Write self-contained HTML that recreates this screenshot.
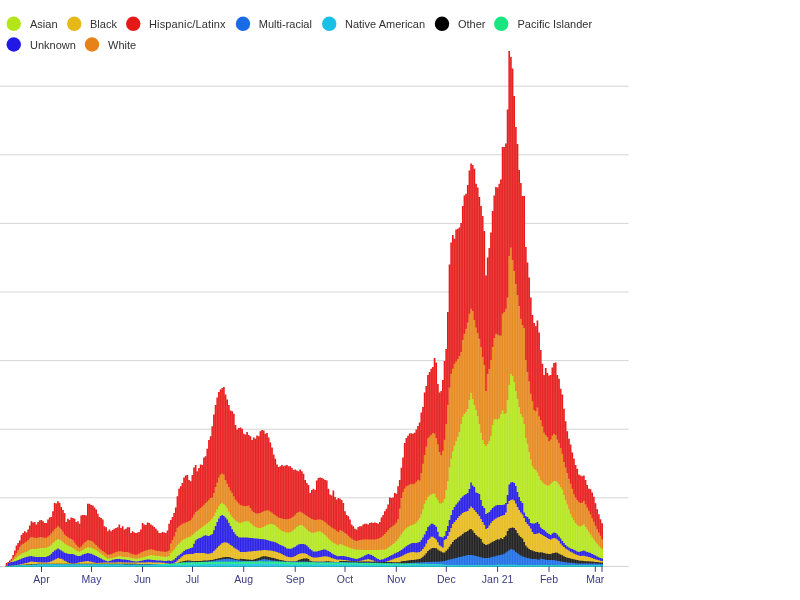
<!DOCTYPE html>
<html><head><meta charset="utf-8"><title>Cases by race/ethnicity</title>
<style>
html,body{margin:0;padding:0;background:#fff;}
body{width:800px;height:600px;overflow:hidden;font-family:"Liberation Sans",sans-serif;}
svg{display:block;filter:blur(0.45px)}
.lg{font-family:"Liberation Sans",sans-serif;font-size:11px;fill:#303030}
.ax{font-family:"Liberation Sans",sans-serif;font-size:10.5px;fill:#3a3a84}
</style></head><body>
<svg width="800" height="600" viewBox="0 0 800 600">
<rect width="800" height="600" fill="#fff"/>
<g id="legend">
<circle cx="13.75" cy="23.8" r="7.2" fill="#b3e619"/><text x="30" y="27.5" class="lg">Asian</text>
<circle cx="74.25" cy="23.8" r="7.2" fill="#e6b919"/><text x="90" y="27.5" class="lg">Black</text>
<circle cx="133.25" cy="23.8" r="7.2" fill="#e61919"/><text x="149" y="27.5" class="lg" textLength="76.6">Hispanic/Latinx</text>
<circle cx="243" cy="23.8" r="7.2" fill="#196be6"/><text x="258.75" y="27.5" class="lg">Multi-racial</text>
<circle cx="329.25" cy="23.8" r="7.2" fill="#19c0e6"/><text x="345" y="27.5" class="lg">Native American</text>
<circle cx="442" cy="23.8" r="7.2" fill="#000000"/><text x="458" y="27.5" class="lg">Other</text>
<circle cx="501.25" cy="23.8" r="7.2" fill="#19e680"/><text x="517.5" y="27.5" class="lg">Pacific Islander</text>
<circle cx="13.75" cy="44.5" r="7.2" fill="#2319e6"/><text x="30" y="48.5" class="lg">Unknown</text>
<circle cx="92" cy="44.5" r="7.2" fill="#e78218"/><text x="108" y="48.5" class="lg">White</text>
</g>
<g id="grid">
<line x1="0" x2="628.7" y1="497.80" y2="497.80" stroke="#d6d6d6" stroke-width="1"/>
<line x1="0" x2="628.7" y1="429.20" y2="429.20" stroke="#d6d6d6" stroke-width="1"/>
<line x1="0" x2="628.7" y1="360.60" y2="360.60" stroke="#d6d6d6" stroke-width="1"/>
<line x1="0" x2="628.7" y1="292.00" y2="292.00" stroke="#d6d6d6" stroke-width="1"/>
<line x1="0" x2="628.7" y1="223.40" y2="223.40" stroke="#d6d6d6" stroke-width="1"/>
<line x1="0" x2="628.7" y1="154.80" y2="154.80" stroke="#d6d6d6" stroke-width="1"/>
<line x1="0" x2="628.7" y1="86.20" y2="86.20" stroke="#d6d6d6" stroke-width="1"/>
<line x1="0" x2="628.7" y1="566.45" y2="566.45" stroke="#d2d2d6" stroke-width="1"/>
</g>
<g id="series" shape-rendering="auto">
<path d="M5.72,566.4L5.72,563.1L7.38,563.1L7.38,561.9L9.04,561.9L9.04,560.6L10.70,560.6L10.70,558.8L12.36,558.8L12.36,555.0L14.02,555.0L14.02,550.6L15.67,550.6L15.67,545.6L17.33,545.6L17.33,543.1L18.99,543.1L18.99,540.6L20.65,540.6L20.65,535.0L22.31,535.0L22.31,533.1L23.97,533.1L23.97,531.2L25.63,531.2L25.63,532.5L27.29,532.5L27.29,529.4L28.95,529.4L28.95,525.6L30.60,525.6L30.61,521.2L32.26,521.2L32.26,522.5L33.92,522.5L33.92,521.9L35.58,521.9L35.58,524.4L37.24,524.4L37.24,521.9L38.90,521.9L38.90,520.6L40.56,520.6L40.56,520.0L42.22,520.0L42.22,521.2L43.88,521.2L43.88,523.1L45.54,523.1L45.54,523.1L47.20,523.1L47.20,519.4L48.85,519.4L48.85,517.5L50.51,517.5L50.51,516.9L52.17,516.9L52.17,511.2L53.83,511.2L53.83,503.1L55.49,503.1L55.49,503.5L57.15,503.5L57.15,501.2L58.81,501.2L58.81,503.1L60.47,503.1L60.47,506.9L62.13,506.9L62.13,510.0L63.78,510.0L63.78,513.1L65.44,513.1L65.44,521.9L67.10,521.9L67.10,518.8L68.76,518.8L68.76,520.0L70.42,520.0L70.42,517.5L72.08,517.5L72.08,518.1L73.74,518.1L73.74,518.8L75.40,518.8L75.40,521.9L77.06,521.9L77.06,521.2L78.72,521.2L78.72,523.8L80.38,523.8L80.38,515.6L82.03,515.6L82.03,515.0L83.69,515.0L83.69,515.0L85.35,515.0L85.35,515.6L87.01,515.6L87.01,503.8L88.67,503.8L88.67,503.8L90.33,503.8L90.33,505.0L91.99,505.0L91.99,505.6L93.65,505.6L93.65,507.5L95.31,507.5L95.31,509.4L96.97,509.4L96.97,513.8L98.62,513.8L98.62,516.9L100.28,516.9L100.28,518.1L101.94,518.1L101.94,519.4L103.60,519.4L103.60,526.2L105.26,526.2L105.26,527.2L106.92,527.2L106.92,531.2L108.58,531.2L108.58,529.4L110.24,529.4L110.24,531.2L111.90,531.2L111.90,530.0L113.56,530.0L113.56,528.8L115.21,528.8L115.21,528.1L116.87,528.1L116.87,527.2L118.53,527.2L118.53,524.4L120.19,524.4L120.19,528.1L121.85,528.1L121.85,526.2L123.51,526.2L123.51,529.4L125.17,529.4L125.17,528.8L126.83,528.8L126.83,527.2L128.49,527.2L128.49,527.2L130.15,527.2L130.15,533.1L131.80,533.1L131.80,531.2L133.46,531.2L133.46,532.5L135.12,532.5L135.12,533.1L136.78,533.1L136.78,532.5L138.44,532.5L138.44,531.9L140.10,531.9L140.10,529.4L141.76,529.4L141.76,523.1L143.42,523.1L143.42,524.4L145.08,524.4L145.08,525.0L146.73,525.0L146.74,522.5L148.39,522.5L148.39,523.1L150.05,523.1L150.05,524.4L151.71,524.4L151.71,525.6L153.37,525.6L153.37,526.9L155.03,526.9L155.03,528.8L156.69,528.8L156.69,530.6L158.35,530.6L158.35,533.1L160.01,533.1L160.01,533.1L161.67,533.1L161.67,531.9L163.32,531.9L163.32,532.5L164.98,532.5L164.98,533.1L166.64,533.1L166.64,530.6L168.30,530.6L168.30,523.8L169.96,523.8L169.96,520.0L171.62,520.0L171.62,516.9L173.28,516.9L173.28,513.1L174.94,513.1L174.94,507.5L176.60,507.5L176.60,496.2L178.26,496.2L178.26,488.8L179.91,488.8L179.91,486.2L181.57,486.2L181.57,483.1L183.23,483.1L183.23,477.5L184.89,477.5L184.89,475.6L186.55,475.6L186.55,475.0L188.21,475.0L188.21,480.0L189.87,480.0L189.87,481.2L191.53,481.2L191.53,475.0L193.19,475.0L193.19,467.5L194.85,467.5L194.85,465.0L196.50,465.0L196.50,471.2L198.16,471.2L198.16,468.1L199.82,468.1L199.82,464.4L201.48,464.4L201.48,465.0L203.14,465.0L203.14,457.5L204.80,457.5L204.80,456.2L206.46,456.2L206.46,448.8L208.12,448.8L208.12,440.0L209.78,440.0L209.78,436.2L211.44,436.2L211.44,426.2L213.09,426.2L213.09,414.4L214.75,414.4L214.75,405.0L216.41,405.0L216.41,397.5L218.07,397.5L218.07,391.9L219.73,391.9L219.73,389.4L221.39,389.4L221.39,388.1L223.05,388.1L223.05,386.9L224.71,386.9L224.71,394.4L226.37,394.4L226.37,399.4L228.03,399.4L228.03,405.0L229.69,405.0L229.69,410.6L231.34,410.6L231.34,411.2L233.00,411.2L233.00,413.8L234.66,413.8L234.66,425.0L236.32,425.0L236.32,429.4L237.98,429.4L237.98,428.1L239.64,428.1L239.64,427.5L241.30,427.5L241.30,428.8L242.96,428.8L242.96,433.8L244.62,433.8L244.62,434.4L246.28,434.4L246.28,431.9L247.93,431.9L247.93,435.0L249.59,435.0L249.59,436.2L251.25,436.2L251.25,440.0L252.91,440.0L252.91,437.5L254.57,437.5L254.57,438.8L256.23,438.8L256.23,435.6L257.89,435.6L257.89,436.2L259.55,436.2L259.55,431.2L261.21,431.2L261.21,430.0L262.87,430.0L262.87,430.6L264.52,430.6L264.52,433.8L266.18,433.8L266.18,433.1L267.84,433.1L267.84,437.5L269.50,437.5L269.50,442.5L271.16,442.5L271.16,447.5L272.82,447.5L272.82,454.4L274.48,454.4L274.48,458.8L276.14,458.8L276.14,464.4L277.80,464.4L277.80,466.9L279.46,466.9L279.46,466.2L281.11,466.2L281.11,465.0L282.77,465.0L282.77,466.2L284.43,466.2L284.43,465.6L286.09,465.6L286.09,465.0L287.75,465.0L287.75,466.2L289.41,466.2L289.41,466.2L291.07,466.2L291.07,468.1L292.73,468.1L292.73,470.0L294.39,470.0L294.39,469.4L296.05,469.4L296.05,470.6L297.70,470.6L297.70,471.2L299.36,471.2L299.36,469.4L301.02,469.4L301.02,471.2L302.68,471.2L302.68,473.8L304.34,473.8L304.34,480.0L306.00,480.0L306.00,483.1L307.66,483.1L307.66,485.0L309.32,485.0L309.32,493.1L310.98,493.1L310.98,490.0L312.64,490.0L312.64,488.8L314.29,488.8L314.29,490.0L315.95,490.0L315.95,480.6L317.61,480.6L317.61,478.1L319.27,478.1L319.27,477.5L320.93,477.5L320.93,478.1L322.59,478.1L322.59,478.8L324.25,478.8L324.25,480.0L325.91,480.0L325.91,480.6L327.57,480.6L327.57,488.8L329.23,488.8L329.23,494.4L330.88,494.4L330.88,495.6L332.54,495.6L332.54,490.6L334.20,490.6L334.20,496.9L335.86,496.9L335.86,499.4L337.52,499.4L337.52,498.1L339.18,498.1L339.18,498.8L340.84,498.8L340.84,500.0L342.50,500.0L342.50,503.1L344.16,503.1L344.16,511.2L345.81,511.2L345.82,515.0L347.47,515.0L347.47,516.2L349.13,516.2L349.13,519.4L350.79,519.4L350.79,524.4L352.45,524.4L352.45,526.2L354.11,526.2L354.11,528.8L355.77,528.8L355.77,529.4L357.43,529.4L357.43,526.9L359.09,526.9L359.09,526.2L360.75,526.2L360.75,526.2L362.41,526.2L362.41,524.4L364.06,524.4L364.06,523.8L365.72,523.8L365.72,523.8L367.38,523.8L367.38,524.4L369.04,524.4L369.04,523.1L370.70,523.1L370.70,522.5L372.36,522.5L372.36,523.1L374.02,523.1L374.02,522.5L375.68,522.5L375.68,523.1L377.34,523.1L377.34,523.8L379.00,523.8L379.00,521.9L380.65,521.9L380.65,517.5L382.31,517.5L382.31,515.0L383.97,515.0L383.97,511.2L385.63,511.2L385.63,508.8L387.29,508.8L387.29,504.4L388.95,504.4L388.95,497.5L390.61,497.5L390.61,498.1L392.27,498.1L392.27,497.5L393.93,497.5L393.93,493.1L395.59,493.1L395.59,493.8L397.24,493.8L397.24,486.2L398.90,486.2L398.90,480.0L400.56,480.0L400.56,467.7L402.22,467.7L402.22,457.6L403.88,457.6L403.88,442.9L405.54,442.9L405.54,438.1L407.20,438.1L407.20,435.8L408.86,435.8L408.86,433.4L410.52,433.4L410.52,433.3L412.18,433.3L412.18,433.8L413.83,433.8L413.83,432.7L415.49,432.7L415.49,429.4L417.15,429.4L417.15,426.0L418.81,426.0L418.81,422.5L420.47,422.5L420.47,412.5L422.13,412.5L422.13,407.0L423.79,407.0L423.79,392.5L425.45,392.5L425.45,386.0L427.11,386.0L427.11,375.0L428.77,375.0L428.77,372.0L430.42,372.0L430.42,368.8L432.08,368.8L432.08,367.0L433.74,367.0L433.74,358.0L435.40,358.0L435.40,362.5L437.06,362.5L437.06,384.0L438.72,384.0L438.72,392.5L440.38,392.5L440.38,391.0L442.04,391.0L442.04,380.0L443.70,380.0L443.70,361.0L445.36,361.0L445.36,349.0L447.01,349.0L447.01,312.0L448.67,312.0L448.67,264.4L450.33,264.4L450.33,242.5L451.99,242.5L451.99,235.0L453.65,235.0L453.65,238.8L455.31,238.8L455.31,229.4L456.97,229.4L456.97,228.8L458.63,228.8L458.63,227.5L460.29,227.5L460.29,223.0L461.95,223.0L461.95,206.0L463.60,206.0L463.60,195.6L465.26,195.6L465.26,193.8L466.92,193.8L466.92,185.0L468.58,185.0L468.58,170.6L470.24,170.6L470.24,163.5L471.90,163.5L471.90,165.0L473.56,165.0L473.56,168.8L475.22,168.8L475.22,183.8L476.88,183.8L476.88,187.5L478.54,187.5L478.54,197.0L480.19,197.0L480.19,206.0L481.85,206.0L481.85,216.0L483.51,216.0L483.51,231.0L485.17,231.0L485.17,275.6L486.83,275.6L486.83,257.5L488.49,257.5L488.49,248.0L490.15,248.0L490.15,232.5L491.81,232.5L491.81,211.0L493.47,211.0L493.47,195.6L495.12,195.6L495.13,187.0L496.78,187.0L496.78,187.5L498.44,187.5L498.44,183.8L500.10,183.8L500.10,179.4L501.76,179.4L501.76,147.0L503.42,147.0L503.42,147.0L505.08,147.0L505.08,143.5L506.74,143.5L506.74,109.5L508.40,109.5L508.40,51.0L510.06,51.0L510.06,57.0L511.72,57.0L511.72,68.5L513.37,68.5L513.37,96.0L515.03,96.0L515.03,127.0L516.69,127.0L516.69,144.0L518.35,144.0L518.35,170.0L520.01,170.0L520.01,183.0L521.67,183.0L521.67,196.0L523.33,196.0L523.33,196.0L524.99,196.0L524.99,247.0L526.65,247.0L526.65,262.5L528.31,262.5L528.31,277.5L529.96,277.5L529.96,297.5L531.62,297.5L531.62,315.0L533.28,315.0L533.28,323.0L534.94,323.0L534.94,326.0L536.60,326.0L536.60,320.6L538.26,320.6L538.26,332.5L539.92,332.5L539.92,350.0L541.58,350.0L541.58,363.8L543.24,363.8L543.24,375.0L544.89,375.0L544.89,368.1L546.55,368.1L546.55,373.1L548.21,373.1L548.21,375.6L549.87,375.6L549.87,375.0L551.53,375.0L551.53,367.5L553.19,367.5L553.19,363.1L554.85,363.1L554.85,362.5L556.51,362.5L556.51,375.0L558.17,375.0L558.17,378.8L559.83,378.8L559.83,388.8L561.49,388.8L561.49,394.4L563.14,394.4L563.14,408.8L564.80,408.8L564.80,421.2L566.46,421.2L566.46,431.2L568.12,431.2L568.12,438.8L569.78,438.8L569.78,444.4L571.44,444.4L571.44,452.5L573.10,452.5L573.10,458.8L574.76,458.8L574.76,465.0L576.42,465.0L576.42,468.8L578.08,468.8L578.08,474.4L579.73,474.4L579.73,475.6L581.39,475.6L581.39,476.2L583.05,476.2L583.05,475.6L584.71,475.6L584.71,480.0L586.37,480.0L586.37,485.0L588.03,485.0L588.03,488.8L589.69,488.8L589.69,489.2L591.35,489.2L591.35,492.5L593.01,492.5L593.01,496.7L594.67,496.7L594.67,503.3L596.32,503.3L596.32,509.2L597.98,509.2L597.98,514.2L599.64,514.2L599.64,519.2L601.30,519.2L601.30,523.3L602.96,523.3L602.96,566.4Z" fill="#e61919"/>
<path d="M5.72,566.4L5.72,566.1L7.38,566.1L7.38,562.9L9.04,562.9L9.04,562.5L10.70,562.5L10.70,560.5L12.36,560.5L12.36,558.2L14.02,558.2L14.02,555.7L15.67,555.7L15.67,553.1L17.33,553.1L17.33,550.1L18.99,550.1L18.99,547.1L20.65,547.1L20.65,544.7L22.31,544.7L22.31,543.7L23.97,543.7L23.97,542.7L25.63,542.7L25.63,541.5L27.29,541.5L27.29,539.9L28.95,539.9L28.95,538.2L30.60,538.2L30.61,537.1L32.26,537.1L32.26,537.4L33.92,537.4L33.92,537.8L35.58,537.8L35.58,537.9L37.24,537.9L37.24,537.6L38.90,537.6L38.90,537.3L40.56,537.3L40.56,537.1L42.22,537.1L42.22,537.4L43.88,537.4L43.88,537.7L45.54,537.7L45.54,537.7L47.20,537.7L47.20,536.5L48.85,536.5L48.85,535.2L50.51,535.2L50.51,533.3L52.17,533.3L52.17,531.2L53.83,531.2L53.83,529.3L55.49,529.3L55.49,527.7L57.15,527.7L57.15,526.0L58.81,526.0L58.81,527.6L60.47,527.6L60.47,529.3L62.13,529.3L62.13,531.6L63.78,531.6L63.78,534.4L65.44,534.4L65.44,536.0L67.10,536.0L67.10,537.2L68.76,537.2L68.76,538.3L70.42,538.3L70.42,539.1L72.08,539.1L72.08,540.0L73.74,540.0L73.74,542.4L75.40,542.4L75.40,544.8L77.06,544.8L77.06,546.6L78.72,546.6L78.72,547.7L80.38,547.7L80.38,546.5L82.03,546.5L82.03,544.4L83.69,544.4L83.69,542.6L85.35,542.6L85.35,541.4L87.01,541.4L87.01,540.1L88.67,540.1L88.67,540.4L90.33,540.4L90.33,540.8L91.99,540.8L91.99,541.8L93.65,541.8L93.65,543.5L95.31,543.5L95.31,545.1L96.97,545.1L96.97,546.8L98.62,546.8L98.62,548.5L100.28,548.5L100.28,549.8L101.94,549.8L101.94,551.1L103.60,551.1L103.60,552.3L105.26,552.3L105.26,553.6L106.92,553.6L106.92,554.8L108.58,554.8L108.58,554.6L110.24,554.6L110.24,554.2L111.90,554.2L111.90,553.6L113.56,553.6L113.56,552.8L115.21,552.8L115.21,552.0L116.87,552.0L116.87,551.6L118.53,551.6L118.53,551.2L120.19,551.2L120.19,551.3L121.85,551.3L121.85,551.7L123.51,551.7L123.51,552.0L125.17,552.0L125.17,552.0L126.83,552.0L126.83,552.0L128.49,552.0L128.49,552.7L130.15,552.7L130.15,553.5L131.80,553.5L131.80,554.2L133.46,554.2L133.46,554.6L135.12,554.6L135.12,555.0L136.78,555.0L136.78,554.2L138.44,554.2L138.44,553.4L140.10,553.4L140.10,552.5L141.76,552.5L141.76,551.7L143.42,551.7L143.42,550.9L145.08,550.9L145.08,550.5L146.73,550.5L146.74,550.1L148.39,550.1L148.39,549.4L150.05,549.4L150.05,549.2L151.71,549.2L151.71,549.6L153.37,549.6L153.37,550.1L155.03,550.1L155.03,550.5L156.69,550.5L156.69,550.9L158.35,550.9L158.35,551.1L160.01,551.1L160.01,551.4L161.67,551.4L161.67,551.6L163.32,551.6L163.32,551.8L164.98,551.8L164.98,552.0L166.64,552.0L166.64,551.3L168.30,551.3L168.30,550.4L169.96,550.4L169.96,543.4L171.62,543.4L171.62,540.1L173.28,540.1L173.28,536.5L174.94,536.5L174.94,532.1L176.60,532.1L176.60,527.7L178.26,527.7L178.26,526.3L179.91,526.3L179.91,525.1L181.57,525.1L181.57,523.8L183.23,523.8L183.23,523.2L184.89,523.2L184.89,522.5L186.55,522.5L186.55,521.9L188.21,521.9L188.21,521.1L189.87,521.1L189.87,520.3L191.53,520.3L191.53,517.8L193.19,517.8L193.19,514.5L194.85,514.5L194.85,512.0L196.50,512.0L196.50,510.7L198.16,510.7L198.16,509.5L199.82,509.5L199.82,508.1L201.48,508.1L201.48,506.4L203.14,506.4L203.14,504.8L204.80,504.8L204.80,503.1L206.46,503.1L206.46,501.5L208.12,501.5L208.12,499.8L209.78,499.8L209.78,498.0L211.44,498.0L211.44,497.5L213.09,497.5L213.09,493.1L214.75,493.1L214.75,486.9L216.41,486.9L216.41,482.5L218.07,482.5L218.07,477.5L219.73,477.5L219.73,474.4L221.39,474.4L221.39,473.5L223.05,473.5L223.05,474.4L224.71,474.4L224.71,480.0L226.37,480.0L226.37,483.8L228.03,483.8L228.03,486.9L229.69,486.9L229.69,490.6L231.34,490.6L231.34,493.1L233.00,493.1L233.00,496.2L234.66,496.2L234.66,499.4L236.32,499.4L236.32,501.4L237.98,501.4L237.98,503.5L239.64,503.5L239.64,505.1L241.30,505.1L241.30,505.5L242.96,505.5L242.96,505.9L244.62,505.9L244.62,506.2L246.28,506.2L246.28,505.9L247.93,505.9L247.93,505.6L249.59,505.6L249.59,508.1L251.25,508.1L251.25,510.6L252.91,510.6L252.91,512.1L254.57,512.1L254.57,513.2L256.23,513.2L256.23,513.6L257.89,513.6L257.89,513.3L259.55,513.3L259.55,512.9L261.21,512.9L261.21,512.1L262.87,512.1L262.87,511.3L264.52,511.3L264.52,510.7L266.18,510.7L266.18,510.2L267.84,510.2L267.84,510.6L269.50,510.6L269.50,511.4L271.16,511.4L271.16,512.5L272.82,512.5L272.82,513.9L274.48,513.9L274.48,515.2L276.14,515.2L276.14,516.3L277.80,516.3L277.80,517.4L279.46,517.4L279.46,518.0L281.11,518.0L281.11,518.6L282.77,518.6L282.77,518.9L284.43,518.9L284.43,519.2L286.09,519.2L286.09,519.3L287.75,519.3L287.75,519.0L289.41,519.0L289.41,518.6L291.07,518.6L291.07,517.5L292.73,517.5L292.73,516.4L294.39,516.4L294.39,514.8L296.05,514.8L296.05,513.1L297.70,513.1L297.70,512.0L299.36,512.0L299.36,511.4L301.02,511.4L301.02,512.5L302.68,512.5L302.68,513.6L304.34,513.6L304.34,514.7L306.00,514.7L306.00,515.8L307.66,515.8L307.66,516.9L309.32,516.9L309.32,518.0L310.98,518.0L310.98,518.9L312.64,518.9L312.64,519.5L314.29,519.5L314.29,520.0L315.95,520.0L315.95,519.7L317.61,519.7L317.61,519.4L319.27,519.4L319.27,519.6L320.93,519.6L320.93,519.9L322.59,519.9L322.59,520.8L324.25,520.8L324.25,522.1L325.91,522.1L325.91,523.5L327.57,523.5L327.57,524.9L329.23,524.9L329.23,526.3L330.88,526.3L330.88,527.4L332.54,527.4L332.54,528.5L334.20,528.5L334.20,529.6L335.86,529.6L335.86,530.7L337.52,530.7L337.52,532.1L339.18,532.1L339.18,530.0L340.84,530.0L340.84,530.8L342.50,530.8L342.50,531.8L344.16,531.8L344.16,532.9L345.81,532.9L345.82,534.1L347.47,534.1L347.47,535.8L349.13,535.8L349.13,537.5L350.79,537.5L350.79,538.6L352.45,538.6L352.45,539.7L354.11,539.7L354.11,540.6L355.77,540.6L355.77,541.1L357.43,541.1L357.43,540.6L359.09,540.6L359.09,540.0L360.75,540.0L360.75,539.8L362.41,539.8L362.41,539.6L364.06,539.6L364.06,539.4L365.72,539.4L365.72,539.4L367.38,539.4L367.38,539.4L369.04,539.4L369.04,539.4L370.70,539.4L370.70,539.4L372.36,539.4L372.36,539.4L374.02,539.4L374.02,539.4L375.68,539.4L375.68,539.1L377.34,539.1L377.34,538.8L379.00,538.8L379.00,538.0L380.65,538.0L380.65,536.9L382.31,536.9L382.31,535.6L383.97,535.6L383.97,533.9L385.63,533.9L385.63,531.9L387.29,531.9L387.29,530.0L388.95,530.0L388.95,528.3L390.61,528.3L390.61,527.0L392.27,527.0L392.27,525.8L393.93,525.8L393.93,524.6L395.59,524.6L395.59,522.6L397.24,522.6L397.24,519.0L398.90,519.0L398.90,508.4L400.56,508.4L400.56,497.9L402.22,497.9L402.22,491.9L403.88,491.9L403.88,488.6L405.54,488.6L405.54,486.2L407.20,486.2L407.20,485.4L408.86,485.4L408.86,484.5L410.52,484.5L410.52,483.8L412.18,483.8L412.18,484.2L413.83,484.2L413.83,483.5L415.49,483.5L415.49,481.8L417.15,481.8L417.15,479.7L418.81,479.7L418.81,480.4L420.47,480.4L420.47,472.9L422.13,472.9L422.13,463.7L423.79,463.7L423.79,454.9L425.45,454.9L425.45,446.6L427.11,446.6L427.11,438.3L428.77,438.3L428.77,436.4L430.42,436.4L430.42,434.7L432.08,434.7L432.08,433.1L433.74,433.1L433.74,433.5L435.40,433.5L435.40,437.9L437.06,437.9L437.06,444.2L438.72,444.2L438.72,451.9L440.38,451.9L440.38,455.2L442.04,455.2L442.04,450.8L443.70,450.8L443.70,439.8L445.36,439.8L445.36,424.0L447.01,424.0L447.01,405.0L448.67,405.0L448.67,387.5L450.33,387.5L450.33,373.8L451.99,373.8L451.99,368.8L453.65,368.8L453.65,363.8L455.31,363.8L455.31,361.5L456.97,361.5L456.97,359.0L458.63,359.0L458.63,356.0L460.29,356.0L460.29,352.0L461.95,352.0L461.95,340.0L463.60,340.0L463.60,333.8L465.26,333.8L465.26,328.8L466.92,328.8L466.92,322.5L468.58,322.5L468.58,313.8L470.24,313.8L470.24,308.8L471.90,308.8L471.90,311.0L473.56,311.0L473.56,320.0L475.22,320.0L475.22,327.5L476.88,327.5L476.88,333.0L478.54,333.0L478.54,338.8L480.19,338.8L480.19,347.0L481.85,347.0L481.85,357.0L483.51,357.0L483.51,365.0L485.17,365.0L485.17,391.0L486.83,391.0L486.83,374.0L488.49,374.0L488.49,369.0L490.15,369.0L490.15,360.0L491.81,360.0L491.81,347.0L493.47,347.0L493.47,338.0L495.12,338.0L495.13,333.8L496.78,333.8L496.78,334.4L498.44,334.4L498.44,335.6L500.10,335.6L500.10,335.6L501.76,335.6L501.76,313.8L503.42,313.8L503.42,312.0L505.08,312.0L505.08,308.8L506.74,308.8L506.74,297.5L508.40,297.5L508.40,256.0L510.06,256.0L510.06,247.5L511.72,247.5L511.72,260.0L513.37,260.0L513.37,271.0L515.03,271.0L515.03,284.0L516.69,284.0L516.69,295.0L518.35,295.0L518.35,306.0L520.01,306.0L520.01,318.8L521.67,318.8L521.67,325.0L523.33,325.0L523.33,328.0L524.99,328.0L524.99,360.0L526.65,360.0L526.65,372.0L528.31,372.0L528.31,381.2L529.96,381.2L529.96,393.8L531.62,393.8L531.62,401.2L533.28,401.2L533.28,410.0L534.94,410.0L534.94,411.2L536.60,411.2L536.60,407.5L538.26,407.5L538.26,416.2L539.92,416.2L539.92,420.0L541.58,420.0L541.58,426.2L543.24,426.2L543.24,432.5L544.89,432.5L544.89,435.0L546.55,435.0L546.55,436.9L548.21,436.9L548.21,441.2L549.87,441.2L549.87,439.4L551.53,439.4L551.53,435.6L553.19,435.6L553.19,433.8L554.85,433.8L554.85,435.0L556.51,435.0L556.51,439.4L558.17,439.4L558.17,443.1L559.83,443.1L559.83,448.1L561.49,448.1L561.49,453.8L563.14,453.8L563.14,461.9L564.80,461.9L564.80,467.5L566.46,467.5L566.46,473.1L568.12,473.1L568.12,478.8L569.78,478.8L569.78,483.8L571.44,483.8L571.44,488.8L573.10,488.8L573.10,494.2L574.76,494.2L574.76,497.5L576.42,497.5L576.42,500.0L578.08,500.0L578.08,502.0L579.73,502.0L579.73,503.0L581.39,503.0L581.39,502.5L583.05,502.5L583.05,500.8L584.71,500.8L584.71,504.2L586.37,504.2L586.37,507.5L588.03,507.5L588.03,510.8L589.69,510.8L589.69,514.2L591.35,514.2L591.35,518.3L593.01,518.3L593.01,521.7L594.67,521.7L594.67,525.8L596.32,525.8L596.32,529.2L597.98,529.2L597.98,532.5L599.64,532.5L599.64,535.8L601.30,535.8L601.30,539.2L602.96,539.2L602.96,566.4Z" fill="#e68619"/>
<path d="M5.72,566.4L5.72,566.1L7.38,566.1L7.38,562.9L9.04,562.9L9.04,562.5L10.70,562.5L10.70,561.5L12.36,561.5L12.36,560.1L14.02,560.1L14.02,558.9L15.67,558.9L15.67,557.6L17.33,557.6L17.33,556.3L18.99,556.3L18.99,554.9L20.65,554.9L20.65,553.8L22.31,553.8L22.31,553.1L23.97,553.1L23.97,552.5L25.63,552.5L25.63,551.7L27.29,551.7L27.29,550.7L28.95,550.7L28.95,549.7L30.60,549.7L30.61,549.0L32.26,549.0L32.26,549.0L33.92,549.0L33.92,549.0L35.58,549.0L35.58,548.9L37.24,548.9L37.24,548.6L38.90,548.6L38.90,548.3L40.56,548.3L40.56,548.0L42.22,548.0L42.22,548.0L43.88,548.0L43.88,548.0L45.54,548.0L45.54,547.8L47.20,547.8L47.20,547.0L48.85,547.0L48.85,546.2L50.51,546.2L50.51,544.7L52.17,544.7L52.17,543.0L53.83,543.0L53.83,541.5L55.49,541.5L55.49,540.3L57.15,540.3L57.15,539.0L58.81,539.0L58.81,539.8L60.47,539.8L60.47,540.6L62.13,540.6L62.13,542.0L63.78,542.0L63.78,543.6L65.44,543.6L65.44,544.6L67.10,544.6L67.10,545.5L68.76,545.5L68.76,546.3L70.42,546.3L70.42,547.1L72.08,547.1L72.08,548.0L73.74,548.0L73.74,549.2L75.40,549.2L75.40,550.4L77.06,550.4L77.06,551.3L78.72,551.3L78.72,551.8L80.38,551.8L80.38,551.1L82.03,551.1L82.03,549.9L83.69,549.9L83.69,548.7L85.35,548.7L85.35,547.9L87.01,547.9L87.01,547.1L88.67,547.1L88.67,547.4L90.33,547.4L90.33,547.8L91.99,547.8L91.99,548.4L93.65,548.4L93.65,549.2L95.31,549.2L95.31,550.1L96.97,550.1L96.97,551.3L98.62,551.3L98.62,552.6L100.28,552.6L100.28,553.8L101.94,553.8L101.94,555.1L103.60,555.1L103.60,556.3L105.26,556.3L105.26,557.6L106.92,557.6L106.92,558.8L108.58,558.8L108.58,558.6L110.24,558.6L110.24,558.2L111.90,558.2L111.90,557.8L113.56,557.8L113.56,557.4L115.21,557.4L115.21,557.0L116.87,557.0L116.87,556.6L118.53,556.6L118.53,556.2L120.19,556.2L120.19,556.3L121.85,556.3L121.85,556.7L123.51,556.7L123.51,557.0L125.17,557.0L125.17,557.0L126.83,557.0L126.83,557.0L128.49,557.0L128.49,557.3L130.15,557.3L130.15,557.7L131.80,557.7L131.80,558.2L133.46,558.2L133.46,558.6L135.12,558.6L135.12,559.0L136.78,559.0L136.78,558.6L138.44,558.6L138.44,558.2L140.10,558.2L140.10,557.8L141.76,557.8L141.76,557.4L143.42,557.4L143.42,556.9L145.08,556.9L145.08,556.5L146.73,556.5L146.74,556.1L148.39,556.1L148.39,555.4L150.05,555.4L150.05,555.1L151.71,555.1L151.71,555.3L153.37,555.3L153.37,555.5L155.03,555.5L155.03,555.7L156.69,555.7L156.69,555.9L158.35,555.9L158.35,556.1L160.01,556.1L160.01,556.4L161.67,556.4L161.67,556.6L163.32,556.6L163.32,556.8L164.98,556.8L164.98,557.0L166.64,557.0L166.64,556.5L168.30,556.5L168.30,556.0L169.96,556.0L169.96,553.0L171.62,553.0L171.62,551.3L173.28,551.3L173.28,549.5L174.94,549.5L174.94,547.3L176.60,547.3L176.60,545.1L178.26,545.1L178.26,543.4L179.91,543.4L179.91,541.8L181.57,541.8L181.57,540.1L183.23,540.1L183.23,539.2L184.89,539.2L184.89,538.4L186.55,538.4L186.55,537.6L188.21,537.6L188.21,537.0L189.87,537.0L189.87,536.4L191.53,536.4L191.53,535.1L193.19,535.1L193.19,533.5L194.85,533.5L194.85,532.0L196.50,532.0L196.50,530.7L198.16,530.7L198.16,529.5L199.82,529.5L199.82,528.3L201.48,528.3L201.48,527.0L203.14,527.0L203.14,525.8L204.80,525.8L204.80,524.5L206.46,524.5L206.46,523.3L208.12,523.3L208.12,522.0L209.78,522.0L209.78,520.4L211.44,520.4L211.44,518.2L213.09,518.2L213.09,515.9L214.75,515.9L214.75,512.6L216.41,512.6L216.41,509.3L218.07,509.3L218.07,506.3L219.73,506.3L219.73,504.0L221.39,504.0L221.39,502.7L223.05,502.7L223.05,503.9L224.71,503.9L224.71,505.8L226.37,505.8L226.37,508.3L228.03,508.3L228.03,511.5L229.69,511.5L229.69,514.5L231.34,514.5L231.34,517.0L233.00,517.0L233.00,518.8L234.66,518.8L234.66,520.4L236.32,520.4L236.32,521.6L237.98,521.6L237.98,522.5L239.64,522.5L239.64,522.9L241.30,522.9L241.30,522.3L242.96,522.3L242.96,521.7L244.62,521.7L244.62,521.2L246.28,521.2L246.28,521.2L247.93,521.2L247.93,521.3L249.59,521.3L249.59,522.9L251.25,522.9L251.25,524.6L252.91,524.6L252.91,525.8L254.57,525.8L254.57,526.9L256.23,526.9L256.23,527.6L257.89,527.6L257.89,527.9L259.55,527.9L259.55,528.0L261.21,528.0L261.21,527.4L262.87,527.4L262.87,526.9L264.52,526.9L264.52,525.8L266.18,525.8L266.18,524.7L267.84,524.7L267.84,524.2L269.50,524.2L269.50,523.9L271.16,523.9L271.16,524.0L272.82,524.0L272.82,524.5L274.48,524.5L274.48,525.3L276.14,525.3L276.14,527.0L277.80,527.0L277.80,528.6L279.46,528.6L279.46,529.8L281.11,529.8L281.11,530.9L282.77,530.9L282.77,531.6L284.43,531.6L284.43,532.2L286.09,532.2L286.09,532.5L287.75,532.5L287.75,532.5L289.41,532.5L289.41,532.3L291.07,532.3L291.07,531.2L292.73,531.2L292.73,530.1L294.39,530.1L294.39,528.5L296.05,528.5L296.05,526.9L297.70,526.9L297.70,525.7L299.36,525.7L299.36,524.9L301.02,524.9L301.02,524.9L302.68,524.9L302.68,526.3L304.34,526.3L304.34,527.7L306.00,527.7L306.00,529.3L307.66,529.3L307.66,531.0L309.32,531.0L309.32,531.9L310.98,531.9L310.98,532.8L312.64,532.8L312.64,532.8L314.29,532.8L314.29,532.3L315.95,532.3L315.95,531.8L317.61,531.8L317.61,531.5L319.27,531.5L319.27,531.3L320.93,531.3L320.93,532.4L322.59,532.4L322.59,533.5L324.25,533.5L324.25,535.1L325.91,535.1L325.91,536.7L327.57,536.7L327.57,538.4L329.23,538.4L329.23,540.1L330.88,540.1L330.88,541.6L332.54,541.6L332.54,542.7L334.20,542.7L334.20,543.8L335.86,543.8L335.86,544.6L337.52,544.6L337.52,545.4L339.18,545.4L339.18,544.1L340.84,544.1L340.84,544.5L342.50,544.5L342.50,545.2L344.16,545.2L344.16,545.9L345.81,545.9L345.82,546.5L347.47,546.5L347.47,547.2L349.13,547.2L349.13,547.8L350.79,547.8L350.79,548.4L352.45,548.4L352.45,549.0L354.11,549.0L354.11,549.4L355.77,549.4L355.77,549.8L357.43,549.8L357.43,549.8L359.09,549.8L359.09,549.8L360.75,549.8L360.75,549.8L362.41,549.8L362.41,549.9L364.06,549.9L364.06,549.9L365.72,549.9L365.72,549.9L367.38,549.9L367.38,550.0L369.04,550.0L369.04,550.0L370.70,550.0L370.70,550.0L372.36,550.0L372.36,549.9L374.02,549.9L374.02,549.9L375.68,549.9L375.68,549.9L377.34,549.9L377.34,549.9L379.00,549.9L379.00,549.8L380.65,549.8L380.65,549.8L382.31,549.8L382.31,549.8L383.97,549.8L383.97,549.8L385.63,549.8L385.63,548.8L387.29,548.8L387.29,547.7L388.95,547.7L388.95,546.4L390.61,546.4L390.61,545.2L392.27,545.2L392.27,543.9L393.93,543.9L393.93,542.7L395.59,542.7L395.59,541.1L397.24,541.1L397.24,539.1L398.90,539.1L398.90,536.7L400.56,536.7L400.56,534.2L402.22,534.2L402.22,531.8L403.88,531.8L403.88,529.7L405.54,529.7L405.54,528.3L407.20,528.3L407.20,527.1L408.86,527.1L408.86,525.9L410.52,525.9L410.52,525.3L412.18,525.3L412.18,524.7L413.83,524.7L413.83,523.9L415.49,523.9L415.49,522.4L417.15,522.4L417.15,520.5L418.81,520.5L418.81,518.0L420.47,518.0L420.47,514.3L422.13,514.3L422.13,509.6L423.79,509.6L423.79,503.8L425.45,503.8L425.45,499.9L427.11,499.9L427.11,497.1L428.77,497.1L428.77,495.4L430.42,495.4L430.42,494.4L432.08,494.4L432.08,493.8L433.74,493.8L433.74,493.8L435.40,493.8L435.40,497.4L437.06,497.4L437.06,500.3L438.72,500.3L438.72,503.2L440.38,503.2L440.38,503.4L442.04,503.4L442.04,502.6L443.70,502.6L443.70,499.1L445.36,499.1L445.36,490.0L447.01,490.0L447.01,480.9L448.67,480.9L448.67,467.3L450.33,467.3L450.33,458.5L451.99,458.5L451.99,451.3L453.65,451.3L453.65,445.7L455.31,445.7L455.31,441.0L456.97,441.0L456.97,437.0L458.63,437.0L458.63,432.0L460.29,432.0L460.29,424.0L461.95,424.0L461.95,417.0L463.60,417.0L463.60,414.0L465.26,414.0L465.26,412.0L466.92,412.0L466.92,409.0L468.58,409.0L468.58,400.0L470.24,400.0L470.24,393.0L471.90,393.0L471.90,399.0L473.56,399.0L473.56,405.0L475.22,405.0L475.22,410.0L476.88,410.0L476.88,416.0L478.54,416.0L478.54,424.0L480.19,424.0L480.19,433.0L481.85,433.0L481.85,440.0L483.51,440.0L483.51,444.0L485.17,444.0L485.17,446.0L486.83,446.0L486.83,444.0L488.49,444.0L488.49,441.0L490.15,441.0L490.15,436.0L491.81,436.0L491.81,425.0L493.47,425.0L493.47,419.5L495.12,419.5L495.13,419.0L496.78,419.0L496.78,419.5L498.44,419.5L498.44,418.5L500.10,418.5L500.10,414.0L501.76,414.0L501.76,410.5L503.42,410.5L503.42,414.0L505.08,414.0L505.08,413.0L506.74,413.0L506.74,400.0L508.40,400.0L508.40,385.0L510.06,385.0L510.06,374.0L511.72,374.0L511.72,376.0L513.37,376.0L513.37,382.0L515.03,382.0L515.03,391.0L516.69,391.0L516.69,399.0L518.35,399.0L518.35,407.0L520.01,407.0L520.01,414.0L521.67,414.0L521.67,417.0L523.33,417.0L523.33,424.0L524.99,424.0L524.99,438.0L526.65,438.0L526.65,443.8L528.31,443.8L528.31,451.9L529.96,451.9L529.96,459.4L531.62,459.4L531.62,466.2L533.28,466.2L533.28,468.8L534.94,468.8L534.94,470.0L536.60,470.0L536.60,472.5L538.26,472.5L538.26,476.2L539.92,476.2L539.92,480.0L541.58,480.0L541.58,482.2L543.24,482.2L543.24,483.8L544.89,483.8L544.89,484.8L546.55,484.8L546.55,485.6L548.21,485.6L548.21,485.6L549.87,485.6L549.87,484.0L551.53,484.0L551.53,481.9L553.19,481.9L553.19,481.0L554.85,481.0L554.85,481.0L556.51,481.0L556.51,482.2L558.17,482.2L558.17,484.4L559.83,484.4L559.83,486.9L561.49,486.9L561.49,489.4L563.14,489.4L563.14,495.0L564.80,495.0L564.80,500.0L566.46,500.0L566.46,504.2L568.12,504.2L568.12,509.2L569.78,509.2L569.78,513.7L571.44,513.7L571.44,517.5L573.10,517.5L573.10,520.3L574.76,520.3L574.76,523.0L576.42,523.0L576.42,525.0L578.08,525.0L578.08,526.2L579.73,526.2L579.73,526.3L581.39,526.3L581.39,525.5L583.05,525.5L583.05,524.2L584.71,524.2L584.71,526.7L586.37,526.7L586.37,529.2L588.03,529.2L588.03,531.7L589.69,531.7L589.69,534.2L591.35,534.2L591.35,536.7L593.01,536.7L593.01,539.2L594.67,539.2L594.67,541.7L596.32,541.7L596.32,543.7L597.98,543.7L597.98,545.8L599.64,545.8L599.64,547.5L601.30,547.5L601.30,549.2L602.96,549.2L602.96,566.4Z" fill="#b3e619"/>
<path d="M5.72,566.4L5.72,566.1L7.38,566.1L7.38,562.9L9.04,562.9L9.04,562.5L10.70,562.5L10.70,562.1L12.36,562.1L12.36,561.7L14.02,561.7L14.02,561.3L15.67,561.3L15.67,560.8L17.33,560.8L17.33,560.1L18.99,560.1L18.99,559.5L20.65,559.5L20.65,558.8L22.31,558.8L22.31,558.1L23.97,558.1L23.97,557.5L25.63,557.5L25.63,556.9L27.29,556.9L27.29,556.6L28.95,556.6L28.95,556.2L30.60,556.2L30.61,556.1L32.26,556.1L32.26,556.4L33.92,556.4L33.92,556.8L35.58,556.8L35.58,557.0L37.24,557.0L37.24,557.0L38.90,557.0L38.90,557.0L40.56,557.0L40.56,557.0L42.22,557.0L42.22,557.0L43.88,557.0L43.88,557.0L45.54,557.0L45.54,556.8L47.20,556.8L47.20,556.0L48.85,556.0L48.85,555.2L50.51,555.2L50.51,553.7L52.17,553.7L52.17,552.0L53.83,552.0L53.83,550.6L55.49,550.6L55.49,549.6L57.15,549.6L57.15,548.6L58.81,548.6L58.81,549.6L60.47,549.6L60.47,550.6L62.13,550.6L62.13,551.6L63.78,551.6L63.78,552.7L65.44,552.7L65.44,553.3L67.10,553.3L67.10,553.7L68.76,553.7L68.76,554.0L70.42,554.0L70.42,554.0L72.08,554.0L72.08,554.0L73.74,554.0L73.74,554.8L75.40,554.8L75.40,555.6L77.06,555.6L77.06,556.0L78.72,556.0L78.72,556.0L80.38,556.0L80.38,555.4L82.03,555.4L82.03,554.6L83.69,554.6L83.69,553.9L85.35,553.9L85.35,553.5L87.01,553.5L87.01,553.0L88.67,553.0L88.67,553.4L90.33,553.4L90.33,553.8L91.99,553.8L91.99,554.4L93.65,554.4L93.65,555.2L95.31,555.2L95.31,556.1L96.97,556.1L96.97,556.9L98.62,556.9L98.62,557.7L100.28,557.7L100.28,558.6L101.94,558.6L101.94,559.4L103.60,559.4L103.60,560.2L105.26,560.2L105.26,560.8L106.92,560.8L106.92,561.5L108.58,561.5L108.58,561.0L110.24,561.0L110.24,560.4L111.90,560.4L111.90,559.8L113.56,559.8L113.56,559.4L115.21,559.4L115.21,559.0L116.87,559.0L116.87,559.0L118.53,559.0L118.53,559.0L120.19,559.0L120.19,559.2L121.85,559.2L121.85,559.4L123.51,559.4L123.51,559.6L125.17,559.6L125.17,559.8L126.83,559.8L126.83,560.0L128.49,560.0L128.49,560.3L130.15,560.3L130.15,560.7L131.80,560.7L131.80,561.1L133.46,561.1L133.46,561.3L135.12,561.3L135.12,561.6L136.78,561.6L136.78,561.4L138.44,561.4L138.44,561.1L140.10,561.1L140.10,560.8L141.76,560.8L141.76,560.4L143.42,560.4L143.42,560.0L145.08,560.0L145.08,559.8L146.73,559.8L146.74,559.6L148.39,559.6L148.39,559.6L150.05,559.6L150.05,559.7L151.71,559.7L151.71,559.9L153.37,559.9L153.37,560.0L155.03,560.0L155.03,560.2L156.69,560.2L156.69,560.4L158.35,560.4L158.35,560.5L160.01,560.5L160.01,560.6L161.67,560.6L161.67,560.7L163.32,560.7L163.32,560.9L164.98,560.9L164.98,561.0L166.64,561.0L166.64,560.8L168.30,560.8L168.30,560.5L169.96,560.5L169.96,561.0L171.62,561.0L171.62,560.4L173.28,560.4L173.28,559.6L174.94,559.6L174.94,558.0L176.60,558.0L176.60,556.3L178.26,556.3L178.26,555.2L179.91,555.2L179.91,554.1L181.57,554.1L181.57,552.6L183.23,552.6L183.23,550.9L184.89,550.9L184.89,549.8L186.55,549.8L186.55,549.2L188.21,549.2L188.21,548.7L189.87,548.7L189.87,548.1L191.53,548.1L191.53,547.5L193.19,547.5L193.19,543.7L194.85,543.7L194.85,540.6L196.50,540.6L196.50,538.9L198.16,538.9L198.16,538.3L199.82,538.3L199.82,537.7L201.48,537.7L201.48,536.8L203.14,536.8L203.14,535.7L204.80,535.7L204.80,535.2L206.46,535.2L206.46,535.8L208.12,535.8L208.12,536.1L209.78,536.1L209.78,535.0L211.44,535.0L211.44,533.9L213.09,533.9L213.09,530.2L214.75,530.2L214.75,526.0L216.41,526.0L216.41,521.9L218.07,521.9L218.07,518.4L219.73,518.4L219.73,516.0L221.39,516.0L221.39,515.1L223.05,515.1L223.05,516.0L224.71,516.0L224.71,517.5L226.37,517.5L226.37,519.6L228.03,519.6L228.03,522.7L229.69,522.7L229.69,526.0L231.34,526.0L231.34,529.3L233.00,529.3L233.00,532.0L234.66,532.0L234.66,534.2L236.32,534.2L236.32,535.9L237.98,535.9L237.98,537.2L239.64,537.2L239.64,537.5L241.30,537.5L241.30,537.5L242.96,537.5L242.96,537.5L244.62,537.5L244.62,537.5L246.28,537.5L246.28,537.6L247.93,537.6L247.93,537.8L249.59,537.8L249.59,537.9L251.25,537.9L251.25,538.1L252.91,538.1L252.91,538.2L254.57,538.2L254.57,538.4L256.23,538.4L256.23,538.6L257.89,538.6L257.89,538.7L259.55,538.7L259.55,538.9L261.21,538.9L261.21,539.1L262.87,539.1L262.87,539.2L264.52,539.2L264.52,539.5L266.18,539.5L266.18,540.0L267.84,540.0L267.84,540.5L269.50,540.5L269.50,541.0L271.16,541.0L271.16,541.4L272.82,541.4L272.82,541.8L274.48,541.8L274.48,542.3L276.14,542.3L276.14,543.0L277.80,543.0L277.80,544.1L279.46,544.1L279.46,545.1L281.11,545.1L281.11,545.6L282.77,545.6L282.77,546.2L284.43,546.2L284.43,547.3L286.09,547.3L286.09,548.4L287.75,548.4L287.75,548.8L289.41,548.8L289.41,548.8L291.07,548.8L291.07,548.4L292.73,548.4L292.73,547.6L294.39,547.6L294.39,546.7L296.05,546.7L296.05,545.6L297.70,545.6L297.70,544.5L299.36,544.5L299.36,544.1L301.02,544.1L301.02,543.9L302.68,543.9L302.68,544.1L304.34,544.1L304.34,544.6L306.00,544.6L306.00,545.6L307.66,545.6L307.66,547.2L309.32,547.2L309.32,548.9L310.98,548.9L310.98,550.3L312.64,550.3L312.64,551.6L314.29,551.6L314.29,551.6L315.95,551.6L315.95,551.4L317.61,551.4L317.61,550.9L319.27,550.9L319.27,550.4L320.93,550.4L320.93,549.9L322.59,549.9L322.59,549.6L324.25,549.6L324.25,549.4L325.91,549.4L325.91,550.2L327.57,550.2L327.57,551.1L329.23,551.1L329.23,552.1L330.88,552.1L330.88,553.2L332.54,553.2L332.54,554.2L334.20,554.2L334.20,555.0L335.86,555.0L335.86,555.8L337.52,555.8L337.52,556.3L339.18,556.3L339.18,556.0L340.84,556.0L340.84,556.0L342.50,556.0L342.50,556.0L344.16,556.0L344.16,556.2L345.81,556.2L345.82,556.7L347.47,556.7L347.47,557.1L349.13,557.1L349.13,557.5L350.79,557.5L350.79,557.9L352.45,557.9L352.45,558.3L354.11,558.3L354.11,558.7L355.77,558.7L355.77,558.9L357.43,558.9L357.43,558.4L359.09,558.4L359.09,558.0L360.75,558.0L360.75,557.2L362.41,557.2L362.41,556.4L364.06,556.4L364.06,555.6L365.72,555.6L365.72,554.7L367.38,554.7L367.38,554.1L369.04,554.1L369.04,554.5L370.70,554.5L370.70,554.9L372.36,554.9L372.36,555.9L374.02,555.9L374.02,557.1L375.68,557.1L375.68,558.3L377.34,558.3L377.34,559.1L379.00,559.1L379.00,559.9L380.65,559.9L380.65,559.6L382.31,559.6L382.31,559.2L383.97,559.2L383.97,558.6L385.63,558.6L385.63,557.8L387.29,557.8L387.29,556.9L388.95,556.9L388.95,556.1L390.61,556.1L390.61,555.3L392.27,555.3L392.27,554.5L393.93,554.5L393.93,553.6L395.59,553.6L395.59,552.8L397.24,552.8L397.24,552.0L398.90,552.0L398.90,551.1L400.56,551.1L400.56,550.0L402.22,550.0L402.22,548.7L403.88,548.7L403.88,547.5L405.54,547.5L405.54,546.2L407.20,546.2L407.20,545.0L408.86,545.0L408.86,544.2L410.52,544.2L410.52,543.3L412.18,543.3L412.18,543.0L413.83,543.0L413.83,543.0L415.49,543.0L415.49,542.9L417.15,542.9L417.15,542.5L418.81,542.5L418.81,542.1L420.47,542.1L420.47,540.1L422.13,540.1L422.13,537.6L423.79,537.6L423.79,534.6L425.45,534.6L425.45,530.9L427.11,530.9L427.11,527.1L428.77,527.1L428.77,525.4L430.42,525.4L430.42,523.7L432.08,523.7L432.08,523.7L433.74,523.7L433.74,524.9L435.40,524.9L435.40,526.7L437.06,526.7L437.06,531.7L438.72,531.7L438.72,536.6L440.38,536.6L440.38,537.0L442.04,537.0L442.04,537.5L443.70,537.5L443.70,536.0L445.36,536.0L445.36,531.0L447.01,531.0L447.01,526.0L448.67,526.0L448.67,520.0L450.33,520.0L450.33,515.0L451.99,515.0L451.99,510.0L453.65,510.0L453.65,507.0L455.31,507.0L455.31,504.5L456.97,504.5L456.97,502.5L458.63,502.5L458.63,500.5L460.29,500.5L460.29,498.0L461.95,498.0L461.95,496.5L463.60,496.5L463.60,495.0L465.26,495.0L465.26,494.0L466.92,494.0L466.92,493.0L468.58,493.0L468.58,489.0L470.24,489.0L470.24,482.5L471.90,482.5L471.90,485.5L473.56,485.5L473.56,487.0L475.22,487.0L475.22,492.5L476.88,492.5L476.88,493.0L478.54,493.0L478.54,494.0L480.19,494.0L480.19,500.0L481.85,500.0L481.85,506.0L483.51,506.0L483.51,508.0L485.17,508.0L485.17,514.0L486.83,514.0L486.83,513.0L488.49,513.0L488.49,512.0L490.15,512.0L490.15,510.0L491.81,510.0L491.81,508.0L493.47,508.0L493.47,506.5L495.12,506.5L495.13,505.5L496.78,505.5L496.78,505.0L498.44,505.0L498.44,505.0L500.10,505.0L500.10,505.0L501.76,505.0L501.76,505.0L503.42,505.0L503.42,504.5L505.08,504.5L505.08,503.0L506.74,503.0L506.74,495.0L508.40,495.0L508.40,484.5L510.06,484.5L510.06,482.5L511.72,482.5L511.72,482.0L513.37,482.0L513.37,483.0L515.03,483.0L515.03,486.0L516.69,486.0L516.69,492.0L518.35,492.0L518.35,497.0L520.01,497.0L520.01,501.0L521.67,501.0L521.67,503.0L523.33,503.0L523.33,512.5L524.99,512.5L524.99,516.0L526.65,516.0L526.65,517.0L528.31,517.0L528.31,519.0L529.96,519.0L529.96,523.0L531.62,523.0L531.62,523.5L533.28,523.5L533.28,523.5L534.94,523.5L534.94,523.0L536.60,523.0L536.60,522.0L538.26,522.0L538.26,524.0L539.92,524.0L539.92,527.5L541.58,527.5L541.58,529.0L543.24,529.0L543.24,530.0L544.89,530.0L544.89,531.5L546.55,531.5L546.55,533.0L548.21,533.0L548.21,534.0L549.87,534.0L549.87,535.0L551.53,535.0L551.53,533.5L553.19,533.5L553.19,532.5L554.85,532.5L554.85,533.0L556.51,533.0L556.51,534.5L558.17,534.5L558.17,536.5L559.83,536.5L559.83,538.5L561.49,538.5L561.49,541.0L563.14,541.0L563.14,543.0L564.80,543.0L564.80,545.0L566.46,545.0L566.46,546.5L568.12,546.5L568.12,547.5L569.78,547.5L569.78,548.5L571.44,548.5L571.44,549.0L573.10,549.0L573.10,549.8L574.76,549.8L574.76,550.6L576.42,550.6L576.42,551.5L578.08,551.5L578.08,551.9L579.73,551.9L579.73,551.4L581.39,551.4L581.39,551.0L583.05,551.0L583.05,550.4L584.71,550.4L584.71,551.2L586.37,551.2L586.37,552.1L588.03,552.1L588.03,552.5L589.69,552.5L589.69,553.1L591.35,553.1L591.35,553.9L593.01,553.9L593.01,554.8L594.67,554.8L594.67,555.6L596.32,555.6L596.32,556.4L597.98,556.4L597.98,557.2L599.64,557.2L599.64,558.0L601.30,558.0L601.30,558.4L602.96,558.4L602.96,566.4Z" fill="#2319e6"/>
<path d="M5.72,566.4L5.72,566.1L7.38,566.1L7.38,566.0L9.04,566.0L9.04,565.8L10.70,565.8L10.70,565.6L12.36,565.6L12.36,565.4L14.02,565.4L14.02,565.2L15.67,565.2L15.67,564.9L17.33,564.9L17.33,564.7L18.99,564.7L18.99,564.5L20.65,564.5L20.65,564.3L22.31,564.3L22.31,563.8L23.97,563.8L23.97,563.3L25.63,563.3L25.63,562.9L27.29,562.9L27.29,562.4L28.95,562.4L28.95,561.9L30.60,561.9L30.61,561.6L32.26,561.6L32.26,561.8L33.92,561.8L33.92,561.9L35.58,561.9L35.58,562.0L37.24,562.0L37.24,562.2L38.90,562.2L38.90,562.3L40.56,562.3L40.56,562.4L42.22,562.4L42.22,562.4L43.88,562.4L43.88,562.4L45.54,562.4L45.54,562.4L47.20,562.4L47.20,562.2L48.85,562.2L48.85,562.0L50.51,562.0L50.51,561.3L52.17,561.3L52.17,560.5L53.83,560.5L53.83,559.7L55.49,559.7L55.49,558.8L57.15,558.8L57.15,558.0L58.81,558.0L58.81,558.4L60.47,558.4L60.47,558.8L62.13,558.8L62.13,559.6L63.78,559.6L63.78,560.7L65.44,560.7L65.44,561.6L67.10,561.6L67.10,562.5L68.76,562.5L68.76,563.1L70.42,563.1L70.42,563.3L72.08,563.3L72.08,563.6L73.74,563.6L73.74,563.4L75.40,563.4L75.40,563.1L77.06,563.1L77.06,562.7L78.72,562.7L78.72,562.2L80.38,562.2L80.38,561.9L82.03,561.9L82.03,561.7L83.69,561.7L83.69,561.5L85.35,561.5L85.35,561.3L87.01,561.3L87.01,561.0L88.67,561.0L88.67,561.4L90.33,561.4L90.33,561.8L91.99,561.8L91.99,562.2L93.65,562.2L93.65,562.6L95.31,562.6L95.31,563.0L96.97,563.0L96.97,562.9L98.62,562.9L98.62,562.8L100.28,562.8L100.28,562.7L101.94,562.7L101.94,562.7L103.60,562.7L103.60,562.6L105.26,562.6L105.26,562.6L106.92,562.6L106.92,562.5L108.58,562.5L108.58,562.5L110.24,562.5L110.24,562.5L111.90,562.5L111.90,562.4L113.56,562.4L113.56,562.4L115.21,562.4L115.21,562.4L116.87,562.4L116.87,562.3L118.53,562.3L118.53,562.3L120.19,562.3L120.19,562.3L121.85,562.3L121.85,562.4L123.51,562.4L123.51,562.4L125.17,562.4L125.17,562.4L126.83,562.4L126.83,562.5L128.49,562.5L128.49,562.5L130.15,562.5L130.15,562.5L131.80,562.5L131.80,562.6L133.46,562.6L133.46,562.6L135.12,562.6L135.12,562.6L136.78,562.6L136.78,562.5L138.44,562.5L138.44,562.5L140.10,562.5L140.10,562.5L141.76,562.5L141.76,562.4L143.42,562.4L143.42,562.4L145.08,562.4L145.08,562.4L146.73,562.4L146.74,562.3L148.39,562.3L148.39,562.3L150.05,562.3L150.05,562.3L151.71,562.3L151.71,562.4L153.37,562.4L153.37,562.4L155.03,562.4L155.03,562.5L156.69,562.5L156.69,562.5L158.35,562.5L158.35,562.6L160.01,562.6L160.01,562.6L161.67,562.6L161.67,562.7L163.32,562.7L163.32,562.8L164.98,562.8L164.98,562.9L166.64,562.9L166.64,563.0L168.30,563.0L168.30,563.8L169.96,563.8L169.96,563.7L171.62,563.7L171.62,563.4L173.28,563.4L173.28,562.8L174.94,562.8L174.94,562.1L176.60,562.1L176.60,560.6L178.26,560.6L178.26,558.9L179.91,558.9L179.91,557.4L181.57,557.4L181.57,556.2L183.23,556.2L183.23,555.0L184.89,555.0L184.89,554.6L186.55,554.6L186.55,554.2L188.21,554.2L188.21,554.0L189.87,554.0L189.87,554.0L191.53,554.0L191.53,553.9L193.19,553.9L193.19,553.5L194.85,553.5L194.85,553.1L196.50,553.1L196.50,553.0L198.16,553.0L198.16,553.0L199.82,553.0L199.82,553.0L201.48,553.0L201.48,553.0L203.14,553.0L203.14,553.0L204.80,553.0L204.80,553.4L206.46,553.4L206.46,553.8L208.12,553.8L208.12,553.8L209.78,553.8L209.78,553.3L211.44,553.3L211.44,552.7L213.09,552.7L213.09,551.1L214.75,551.1L214.75,549.4L216.41,549.4L216.41,547.8L218.07,547.8L218.07,546.1L219.73,546.1L219.73,544.4L221.39,544.4L221.39,542.9L223.05,542.9L223.05,542.4L224.71,542.4L224.71,542.2L226.37,542.2L226.37,542.7L228.03,542.7L228.03,543.6L229.69,543.6L229.69,544.9L231.34,544.9L231.34,546.1L233.00,546.1L233.00,547.4L234.66,547.4L234.66,548.6L236.32,548.6L236.32,549.6L237.98,549.6L237.98,550.4L239.64,550.4L239.64,551.9L241.30,551.9L241.30,551.9L242.96,551.9L242.96,551.9L244.62,551.9L244.62,551.9L246.28,551.9L246.28,551.8L247.93,551.8L247.93,551.6L249.59,551.6L249.59,551.5L251.25,551.5L251.25,551.3L252.91,551.3L252.91,551.1L254.57,551.1L254.57,551.0L256.23,551.0L256.23,550.8L257.89,550.8L257.89,550.6L259.55,550.6L259.55,550.5L261.21,550.5L261.21,550.3L262.87,550.3L262.87,550.1L264.52,550.1L264.52,550.0L266.18,550.0L266.18,550.2L267.84,550.2L267.84,550.4L269.50,550.4L269.50,550.5L271.16,550.5L271.16,550.8L272.82,550.8L272.82,551.2L274.48,551.2L274.48,551.6L276.14,551.6L276.14,552.1L277.80,552.1L277.80,552.7L279.46,552.7L279.46,553.3L281.11,553.3L281.11,554.1L282.77,554.1L282.77,554.9L284.43,554.9L284.43,555.8L286.09,555.8L286.09,556.6L287.75,556.6L287.75,557.1L289.41,557.1L289.41,557.3L291.07,557.3L291.07,557.3L292.73,557.3L292.73,556.7L294.39,556.7L294.39,556.1L296.05,556.1L296.05,555.0L297.70,555.0L297.70,553.9L299.36,553.9L299.36,553.5L301.02,553.5L301.02,553.2L302.68,553.2L302.68,553.3L304.34,553.3L304.34,553.6L306.00,553.6L306.00,554.1L307.66,554.1L307.66,555.2L309.32,555.2L309.32,556.3L310.98,556.3L310.98,556.9L312.64,556.9L312.64,557.4L314.29,557.4L314.29,557.5L315.95,557.5L315.95,557.5L317.61,557.5L317.61,557.3L319.27,557.3L319.27,557.1L320.93,557.1L320.93,556.8L322.59,556.8L322.59,556.5L324.25,556.5L324.25,556.3L325.91,556.3L325.91,556.5L327.57,556.5L327.57,556.8L329.23,556.8L329.23,557.3L330.88,557.3L330.88,557.9L332.54,557.9L332.54,558.4L334.20,558.4L334.20,559.0L335.86,559.0L335.86,559.4L337.52,559.4L337.52,559.7L339.18,559.7L339.18,559.6L340.84,559.6L340.84,559.8L342.50,559.8L342.50,559.9L344.16,559.9L344.16,560.1L345.81,560.1L345.82,560.3L347.47,560.3L347.47,560.4L349.13,560.4L349.13,560.7L350.79,560.7L350.79,560.9L352.45,560.9L352.45,561.2L354.11,561.2L354.11,561.3L355.77,561.3L355.77,561.4L357.43,561.4L357.43,561.3L359.09,561.3L359.09,561.0L360.75,561.0L360.75,560.6L362.41,560.6L362.41,560.2L364.06,560.2L364.06,559.8L365.72,559.8L365.72,559.4L367.38,559.4L367.38,559.1L369.04,559.1L369.04,559.5L370.70,559.5L370.70,559.9L372.36,559.9L372.36,560.6L374.02,560.6L374.02,561.4L375.68,561.4L375.68,561.8L377.34,561.8L377.34,561.8L379.00,561.8L379.00,561.9L380.65,561.9L380.65,561.9L382.31,561.9L382.31,561.9L383.97,561.9L383.97,562.0L385.63,562.0L385.63,561.5L387.29,561.5L387.29,561.0L388.95,561.0L388.95,560.4L390.61,560.4L390.61,559.8L392.27,559.8L392.27,559.2L393.93,559.2L393.93,558.5L395.59,558.5L395.59,557.9L397.24,557.9L397.24,557.5L398.90,557.5L398.90,557.1L400.56,557.1L400.56,556.3L402.22,556.3L402.22,555.5L403.88,555.5L403.88,554.6L405.54,554.6L405.54,553.8L407.20,553.8L407.20,553.0L408.86,553.0L408.86,552.6L410.52,552.6L410.52,552.2L412.18,552.2L412.18,552.1L413.83,552.1L413.83,552.3L415.49,552.3L415.49,552.4L417.15,552.4L417.15,552.2L418.81,552.2L418.81,552.0L420.47,552.0L420.47,550.7L422.13,550.7L422.13,549.0L423.79,549.0L423.79,546.8L425.45,546.8L425.45,543.4L427.11,543.4L427.11,540.1L428.77,540.1L428.77,538.4L430.42,538.4L430.42,536.7L432.08,536.7L432.08,536.7L433.74,536.7L433.74,537.9L435.40,537.9L435.40,539.4L437.06,539.4L437.06,542.3L438.72,542.3L438.72,545.2L440.38,545.2L440.38,546.6L442.04,546.6L442.04,547.4L443.70,547.4L443.70,540.0L445.36,540.0L445.36,539.0L447.01,539.0L447.01,536.0L448.67,536.0L448.67,532.0L450.33,532.0L450.33,528.0L451.99,528.0L451.99,524.0L453.65,524.0L453.65,522.0L455.31,522.0L455.31,520.0L456.97,520.0L456.97,518.0L458.63,518.0L458.63,516.0L460.29,516.0L460.29,514.5L461.95,514.5L461.95,513.0L463.60,513.0L463.60,512.0L465.26,512.0L465.26,511.5L466.92,511.5L466.92,511.0L468.58,511.0L468.58,508.5L470.24,508.5L470.24,506.5L471.90,506.5L471.90,508.0L473.56,508.0L473.56,510.0L475.22,510.0L475.22,512.0L476.88,512.0L476.88,514.0L478.54,514.0L478.54,516.0L480.19,516.0L480.19,519.0L481.85,519.0L481.85,522.0L483.51,522.0L483.51,525.0L485.17,525.0L485.17,529.0L486.83,529.0L486.83,528.0L488.49,528.0L488.49,525.5L490.15,525.5L490.15,523.0L491.81,523.0L491.81,521.0L493.47,521.0L493.47,519.5L495.12,519.5L495.13,518.5L496.78,518.5L496.78,517.5L498.44,517.5L498.44,517.0L500.10,517.0L500.10,516.0L501.76,516.0L501.76,515.5L503.42,515.5L503.42,515.0L505.08,515.0L505.08,512.5L506.74,512.5L506.74,504.0L508.40,504.0L508.40,501.0L510.06,501.0L510.06,500.0L511.72,500.0L511.72,499.5L513.37,499.5L513.37,500.5L515.03,500.5L515.03,503.5L516.69,503.5L516.69,507.0L518.35,507.0L518.35,510.0L520.01,510.0L520.01,512.5L521.67,512.5L521.67,514.5L523.33,514.5L523.33,518.0L524.99,518.0L524.99,522.0L526.65,522.0L526.65,524.0L528.31,524.0L528.31,526.0L529.96,526.0L529.96,528.5L531.62,528.5L531.62,532.0L533.28,532.0L533.28,534.0L534.94,534.0L534.94,534.0L536.60,534.0L536.60,533.5L538.26,533.5L538.26,533.0L539.92,533.0L539.92,534.0L541.58,534.0L541.58,535.0L543.24,535.0L543.24,536.0L544.89,536.0L544.89,537.0L546.55,537.0L546.55,538.0L548.21,538.0L548.21,539.0L549.87,539.0L549.87,539.5L551.53,539.5L551.53,538.5L553.19,538.5L553.19,538.0L554.85,538.0L554.85,538.5L556.51,538.5L556.51,539.5L558.17,539.5L558.17,541.0L559.83,541.0L559.83,543.5L561.49,543.5L561.49,545.5L563.14,545.5L563.14,547.0L564.80,547.0L564.80,548.5L566.46,548.5L566.46,549.5L568.12,549.5L568.12,550.5L569.78,550.5L569.78,551.8L571.44,551.8L571.44,552.6L573.10,552.6L573.10,553.5L574.76,553.5L574.76,554.3L576.42,554.3L576.42,555.0L578.08,555.0L578.08,555.6L579.73,555.6L579.73,555.9L581.39,555.9L581.39,555.8L583.05,555.8L583.05,555.8L584.71,555.8L584.71,556.2L586.37,556.2L586.37,556.6L588.03,556.6L588.03,557.0L589.69,557.0L589.69,557.5L591.35,557.5L591.35,558.1L593.01,558.1L593.01,558.7L594.67,558.7L594.67,559.3L596.32,559.3L596.32,559.8L597.98,559.8L597.98,560.3L599.64,560.3L599.64,560.7L601.30,560.7L601.30,561.0L602.96,561.0L602.96,566.4Z" fill="#e6b919"/>
<path d="M5.72,566.4L5.72,566.1L7.38,566.1L7.38,566.1L9.04,566.1L9.04,566.0L10.70,566.0L10.70,565.8L12.36,565.8L12.36,565.6L14.02,565.6L14.02,565.4L15.67,565.4L15.67,565.3L17.33,565.3L17.33,565.2L18.99,565.2L18.99,565.1L20.65,565.1L20.65,565.0L22.31,565.0L22.31,564.8L23.97,564.8L23.97,564.7L25.63,564.7L25.63,564.6L27.29,564.6L27.29,564.5L28.95,564.5L28.95,564.4L30.60,564.4L30.61,564.3L32.26,564.3L32.26,564.2L33.92,564.2L33.92,564.1L35.58,564.1L35.58,563.9L37.24,563.9L37.24,563.8L38.90,563.8L38.90,563.7L40.56,563.7L40.56,563.7L42.22,563.7L42.22,563.7L43.88,563.7L43.88,563.7L45.54,563.7L45.54,563.7L47.20,563.7L47.20,563.7L48.85,563.7L48.85,563.7L50.51,563.7L50.51,563.7L52.17,563.7L52.17,563.7L53.83,563.7L53.83,563.7L55.49,563.7L55.49,563.7L57.15,563.7L57.15,563.7L58.81,563.7L58.81,563.7L60.47,563.7L60.47,563.7L62.13,563.7L62.13,563.7L63.78,563.7L63.78,563.7L65.44,563.7L65.44,563.7L67.10,563.7L67.10,563.7L68.76,563.7L68.76,563.7L70.42,563.7L70.42,563.7L72.08,563.7L72.08,563.7L73.74,563.7L73.74,563.7L75.40,563.7L75.40,563.7L77.06,563.7L77.06,563.7L78.72,563.7L78.72,563.7L80.38,563.7L80.38,563.7L82.03,563.7L82.03,563.7L83.69,563.7L83.69,563.7L85.35,563.7L85.35,563.7L87.01,563.7L87.01,563.7L88.67,563.7L88.67,563.7L90.33,563.7L90.33,563.7L91.99,563.7L91.99,563.7L93.65,563.7L93.65,563.7L95.31,563.7L95.31,563.7L96.97,563.7L96.97,563.7L98.62,563.7L98.62,563.7L100.28,563.7L100.28,563.7L101.94,563.7L101.94,563.7L103.60,563.7L103.60,563.7L105.26,563.7L105.26,563.7L106.92,563.7L106.92,563.7L108.58,563.7L108.58,563.7L110.24,563.7L110.24,563.8L111.90,563.8L111.90,563.8L113.56,563.8L113.56,563.8L115.21,563.8L115.21,563.8L116.87,563.8L116.87,563.8L118.53,563.8L118.53,563.8L120.19,563.8L120.19,563.8L121.85,563.8L121.85,563.8L123.51,563.8L123.51,563.8L125.17,563.8L125.17,563.8L126.83,563.8L126.83,563.8L128.49,563.8L128.49,563.8L130.15,563.8L130.15,563.8L131.80,563.8L131.80,563.8L133.46,563.8L133.46,563.8L135.12,563.8L135.12,563.8L136.78,563.8L136.78,563.9L138.44,563.9L138.44,563.9L140.10,563.9L140.10,563.9L141.76,563.9L141.76,563.9L143.42,563.9L143.42,563.9L145.08,563.9L145.08,563.9L146.73,563.9L146.74,563.9L148.39,563.9L148.39,563.9L150.05,563.9L150.05,563.9L151.71,563.9L151.71,563.9L153.37,563.9L153.37,563.9L155.03,563.9L155.03,563.9L156.69,563.9L156.69,563.9L158.35,563.9L158.35,564.0L160.01,564.0L160.01,564.0L161.67,564.0L161.67,564.0L163.32,564.0L163.32,563.9L164.98,563.9L164.98,563.8L166.64,563.8L166.64,563.7L168.30,563.7L168.30,563.9L169.96,563.9L169.96,563.7L171.62,563.7L171.62,563.6L173.28,563.6L173.28,563.4L174.94,563.4L174.94,563.2L176.60,563.2L176.60,563.0L178.26,563.0L178.26,562.5L179.91,562.5L179.91,561.8L181.57,561.8L181.57,561.4L183.23,561.4L183.23,561.0L184.89,561.0L184.89,560.7L186.55,560.7L186.55,560.5L188.21,560.5L188.21,560.6L189.87,560.6L189.87,560.8L191.53,560.8L191.53,561.0L193.19,561.0L193.19,561.0L194.85,561.0L194.85,561.0L196.50,561.0L196.50,561.0L198.16,561.0L198.16,561.0L199.82,561.0L199.82,560.9L201.48,560.9L201.48,560.7L203.14,560.7L203.14,560.4L204.80,560.4L204.80,560.4L206.46,560.4L206.46,560.4L208.12,560.4L208.12,560.3L209.78,560.3L209.78,560.1L211.44,560.1L211.44,559.9L213.09,559.9L213.09,559.5L214.75,559.5L214.75,559.1L216.41,559.1L216.41,558.7L218.07,558.7L218.07,558.3L219.73,558.3L219.73,557.9L221.39,557.9L221.39,557.6L223.05,557.6L223.05,557.2L224.71,557.2L224.71,557.0L226.37,557.0L226.37,557.0L228.03,557.0L228.03,557.0L229.69,557.0L229.69,557.5L231.34,557.5L231.34,558.0L233.00,558.0L233.00,558.5L234.66,558.5L234.66,558.9L236.32,558.9L236.32,559.2L237.98,559.2L237.98,559.4L239.64,559.4L239.64,558.8L241.30,558.8L241.30,559.0L242.96,559.0L242.96,559.1L244.62,559.1L244.62,559.3L246.28,559.3L246.28,559.5L247.93,559.5L247.93,559.6L249.59,559.6L249.59,559.8L251.25,559.8L251.25,560.0L252.91,560.0L252.91,559.6L254.57,559.6L254.57,559.1L256.23,559.1L256.23,558.6L257.89,558.6L257.89,558.1L259.55,558.1L259.55,557.3L261.21,557.3L261.21,556.5L262.87,556.5L262.87,556.2L264.52,556.2L264.52,556.2L266.18,556.2L266.18,556.4L267.84,556.4L267.84,556.9L269.50,556.9L269.50,557.3L271.16,557.3L271.16,557.7L272.82,557.7L272.82,558.1L274.48,558.1L274.48,558.5L276.14,558.5L276.14,559.0L277.80,559.0L277.80,559.5L279.46,559.5L279.46,560.0L281.11,560.0L281.11,560.3L282.77,560.3L282.77,560.6L284.43,560.6L284.43,561.1L286.09,561.1L286.09,561.4L287.75,561.4L287.75,561.4L289.41,561.4L289.41,561.5L291.07,561.5L291.07,561.5L292.73,561.5L292.73,561.5L294.39,561.5L294.39,561.5L296.05,561.5L296.05,560.9L297.70,560.9L297.70,560.1L299.36,560.1L299.36,559.5L301.02,559.5L301.02,559.0L302.68,559.0L302.68,558.6L304.34,558.6L304.34,558.4L306.00,558.4L306.00,558.2L307.66,558.2L307.66,559.1L309.32,559.1L309.32,560.7L310.98,560.7L310.98,561.2L312.64,561.2L312.64,561.7L314.29,561.7L314.29,561.7L315.95,561.7L315.95,561.7L317.61,561.7L317.61,561.8L319.27,561.8L319.27,561.8L320.93,561.8L320.93,561.8L322.59,561.8L322.59,561.7L324.25,561.7L324.25,561.5L325.91,561.5L325.91,561.3L327.57,561.3L327.57,561.3L329.23,561.3L329.23,561.5L330.88,561.5L330.88,561.7L332.54,561.7L332.54,561.8L334.20,561.8L334.20,561.9L335.86,561.9L335.86,562.0L337.52,562.0L337.52,562.0L339.18,562.0L339.18,561.0L340.84,561.0L340.84,561.0L342.50,561.0L342.50,561.1L344.16,561.1L344.16,561.1L345.81,561.1L345.82,561.1L347.47,561.1L347.47,561.2L349.13,561.2L349.13,561.2L350.79,561.2L350.79,561.3L352.45,561.3L352.45,561.3L354.11,561.3L354.11,561.3L355.77,561.3L355.77,561.4L357.43,561.4L357.43,561.4L359.09,561.4L359.09,561.4L360.75,561.4L360.75,561.5L362.41,561.5L362.41,561.5L364.06,561.5L364.06,561.5L365.72,561.5L365.72,561.6L367.38,561.6L367.38,561.6L369.04,561.6L369.04,561.6L370.70,561.6L370.70,561.7L372.36,561.7L372.36,561.7L374.02,561.7L374.02,561.8L375.68,561.8L375.68,561.8L377.34,561.8L377.34,561.8L379.00,561.8L379.00,561.9L380.65,561.9L380.65,561.9L382.31,561.9L382.31,561.9L383.97,561.9L383.97,562.0L385.63,562.0L385.63,562.0L387.29,562.0L387.29,562.0L388.95,562.0L388.95,562.1L390.61,562.1L390.61,562.1L392.27,562.1L392.27,562.2L393.93,562.2L393.93,562.2L395.59,562.2L395.59,562.2L397.24,562.2L397.24,562.3L398.90,562.3L398.90,562.3L400.56,562.3L400.56,561.3L402.22,561.3L402.22,561.1L403.88,561.1L403.88,560.9L405.54,560.9L405.54,560.7L407.20,560.7L407.20,560.5L408.86,560.5L408.86,560.3L410.52,560.3L410.52,560.1L412.18,560.1L412.18,559.9L413.83,559.9L413.83,559.7L415.49,559.7L415.49,559.5L417.15,559.5L417.15,559.3L418.81,559.3L418.81,559.0L420.47,559.0L420.47,558.0L422.13,558.0L422.13,556.8L423.79,556.8L423.79,555.2L425.45,555.2L425.45,553.2L427.11,553.2L427.11,551.1L428.77,551.1L428.77,549.8L430.42,549.8L430.42,548.6L432.08,548.6L432.08,548.0L433.74,548.0L433.74,548.0L435.40,548.0L435.40,548.2L437.06,548.2L437.06,549.4L438.72,549.4L438.72,550.7L440.38,550.7L440.38,551.6L442.04,551.6L442.04,552.4L443.70,552.4L443.70,552.5L445.36,552.5L445.36,550.8L447.01,550.8L447.01,549.2L448.67,549.2L448.67,546.7L450.33,546.7L450.33,544.3L451.99,544.3L451.99,542.0L453.65,542.0L453.65,539.9L455.31,539.9L455.31,539.0L456.97,539.0L456.97,537.5L458.63,537.5L458.63,536.5L460.29,536.5L460.29,535.5L461.95,535.5L461.95,534.0L463.60,534.0L463.60,532.5L465.26,532.5L465.26,532.0L466.92,532.0L466.92,531.0L468.58,531.0L468.58,529.5L470.24,529.5L470.24,529.0L471.90,529.0L471.90,530.5L473.56,530.5L473.56,533.0L475.22,533.0L475.22,535.0L476.88,535.0L476.88,536.5L478.54,536.5L478.54,537.5L480.19,537.5L480.19,539.0L481.85,539.0L481.85,542.6L483.51,542.6L483.51,543.9L485.17,543.9L485.17,545.0L486.83,545.0L486.83,544.4L488.49,544.4L488.49,543.8L490.15,543.8L490.15,542.7L491.81,542.7L491.81,541.7L493.47,541.7L493.47,540.9L495.12,540.9L495.13,540.0L496.78,540.0L496.78,539.2L498.44,539.2L498.44,539.5L500.10,539.5L500.10,538.0L501.76,538.0L501.76,539.0L503.42,539.0L503.42,537.0L505.08,537.0L505.08,535.5L506.74,535.5L506.74,531.0L508.40,531.0L508.40,528.5L510.06,528.5L510.06,528.0L511.72,528.0L511.72,527.5L513.37,527.5L513.37,528.0L515.03,528.0L515.03,530.0L516.69,530.0L516.69,533.0L518.35,533.0L518.35,535.5L520.01,535.5L520.01,537.0L521.67,537.0L521.67,538.5L523.33,538.5L523.33,542.0L524.99,542.0L524.99,545.5L526.65,545.5L526.65,547.5L528.31,547.5L528.31,549.0L529.96,549.0L529.96,550.0L531.62,550.0L531.62,550.6L533.28,550.6L533.28,551.3L534.94,551.3L534.94,551.7L536.60,551.7L536.60,552.1L538.26,552.1L538.26,552.5L539.92,552.5L539.92,552.2L541.58,552.2L541.58,552.6L543.24,552.6L543.24,553.0L544.89,553.0L544.89,553.4L546.55,553.4L546.55,553.8L548.21,553.8L548.21,554.0L549.87,554.0L549.87,553.9L551.53,553.9L551.53,553.3L553.19,553.3L553.19,552.9L554.85,552.9L554.85,552.6L556.51,552.6L556.51,552.8L558.17,552.8L558.17,553.7L559.83,553.7L559.83,554.5L561.49,554.5L561.49,555.3L563.14,555.3L563.14,556.2L564.80,556.2L564.80,557.0L566.46,557.0L566.46,557.7L568.12,557.7L568.12,558.1L569.78,558.1L569.78,558.5L571.44,558.5L571.44,558.9L573.10,558.9L573.10,559.3L574.76,559.3L574.76,559.7L576.42,559.7L576.42,560.1L578.08,560.1L578.08,560.6L579.73,560.6L579.73,560.8L581.39,560.8L581.39,560.8L583.05,560.8L583.05,560.9L584.71,560.9L584.71,561.2L586.37,561.2L586.37,561.3L588.03,561.3L588.03,561.3L589.69,561.3L589.69,561.4L591.35,561.4L591.35,561.6L593.01,561.6L593.01,561.7L594.67,561.7L594.67,561.9L596.32,561.9L596.32,562.1L597.98,562.1L597.98,562.3L599.64,562.3L599.64,562.5L601.30,562.5L601.30,562.5L602.96,562.5L602.96,566.4Z" fill="#171717"/>
<path d="M5.72,566.4L5.72,566.1L7.38,566.1L7.38,566.1L9.04,566.1L9.04,566.1L10.70,566.1L10.70,565.9L12.36,565.9L12.36,565.8L14.02,565.8L14.02,565.6L15.67,565.6L15.67,565.5L17.33,565.5L17.33,565.5L18.99,565.5L18.99,565.4L20.65,565.4L20.65,565.3L22.31,565.3L22.31,565.2L23.97,565.2L23.97,565.2L25.63,565.2L25.63,565.1L27.29,565.1L27.29,565.0L28.95,565.0L28.95,564.9L30.60,564.9L30.61,564.9L32.26,564.9L32.26,564.8L33.92,564.8L33.92,564.7L35.58,564.7L35.58,564.7L37.24,564.7L37.24,564.6L38.90,564.6L38.90,564.5L40.56,564.5L40.56,564.5L42.22,564.5L42.22,564.5L43.88,564.5L43.88,564.5L45.54,564.5L45.54,564.5L47.20,564.5L47.20,564.5L48.85,564.5L48.85,564.5L50.51,564.5L50.51,564.5L52.17,564.5L52.17,564.5L53.83,564.5L53.83,564.5L55.49,564.5L55.49,564.5L57.15,564.5L57.15,564.5L58.81,564.5L58.81,564.5L60.47,564.5L60.47,564.5L62.13,564.5L62.13,564.5L63.78,564.5L63.78,564.5L65.44,564.5L65.44,564.5L67.10,564.5L67.10,564.5L68.76,564.5L68.76,564.5L70.42,564.5L70.42,564.5L72.08,564.5L72.08,564.5L73.74,564.5L73.74,564.5L75.40,564.5L75.40,564.5L77.06,564.5L77.06,564.5L78.72,564.5L78.72,564.5L80.38,564.5L80.38,564.5L82.03,564.5L82.03,564.5L83.69,564.5L83.69,564.5L85.35,564.5L85.35,564.5L87.01,564.5L87.01,564.5L88.67,564.5L88.67,564.5L90.33,564.5L90.33,564.5L91.99,564.5L91.99,564.5L93.65,564.5L93.65,564.5L95.31,564.5L95.31,564.6L96.97,564.6L96.97,564.6L98.62,564.6L98.62,564.6L100.28,564.6L100.28,564.6L101.94,564.6L101.94,564.6L103.60,564.6L103.60,564.6L105.26,564.6L105.26,564.6L106.92,564.6L106.92,564.6L108.58,564.6L108.58,564.6L110.24,564.6L110.24,564.6L111.90,564.6L111.90,564.6L113.56,564.6L113.56,564.6L115.21,564.6L115.21,564.6L116.87,564.6L116.87,564.6L118.53,564.6L118.53,564.6L120.19,564.6L120.19,564.6L121.85,564.6L121.85,564.6L123.51,564.6L123.51,564.7L125.17,564.7L125.17,564.7L126.83,564.7L126.83,564.7L128.49,564.7L128.49,564.7L130.15,564.7L130.15,564.7L131.80,564.7L131.80,564.7L133.46,564.7L133.46,564.7L135.12,564.7L135.12,564.7L136.78,564.7L136.78,564.7L138.44,564.7L138.44,564.7L140.10,564.7L140.10,564.7L141.76,564.7L141.76,564.7L143.42,564.7L143.42,564.7L145.08,564.7L145.08,564.7L146.73,564.7L146.74,564.7L148.39,564.7L148.39,564.7L150.05,564.7L150.05,564.7L151.71,564.7L151.71,564.6L153.37,564.6L153.37,564.5L155.03,564.5L155.03,564.4L156.69,564.4L156.69,564.3L158.35,564.3L158.35,564.2L160.01,564.2L160.01,564.1L161.67,564.1L161.67,564.0L163.32,564.0L163.32,563.9L164.98,563.9L164.98,563.8L166.64,563.8L166.64,563.7L168.30,563.7L168.30,563.9L169.96,563.9L169.96,563.7L171.62,563.7L171.62,563.6L173.28,563.6L173.28,563.4L174.94,563.4L174.94,563.2L176.60,563.2L176.60,563.0L178.26,563.0L178.26,562.8L179.91,562.8L179.91,562.7L181.57,562.7L181.57,562.6L183.23,562.6L183.23,562.3L184.89,562.3L184.89,562.0L186.55,562.0L186.55,561.7L188.21,561.7L188.21,561.6L189.87,561.6L189.87,561.7L191.53,561.7L191.53,561.7L193.19,561.7L193.19,561.8L194.85,561.8L194.85,561.9L196.50,561.9L196.50,561.9L198.16,561.9L198.16,562.0L199.82,562.0L199.82,561.9L201.48,561.9L201.48,561.8L203.14,561.8L203.14,561.7L204.80,561.7L204.80,561.5L206.46,561.5L206.46,561.4L208.12,561.4L208.12,561.3L209.78,561.3L209.78,561.1L211.44,561.1L211.44,561.0L213.09,561.0L213.09,560.7L214.75,560.7L214.75,560.4L216.41,560.4L216.41,560.1L218.07,560.1L218.07,559.8L219.73,559.8L219.73,559.5L221.39,559.5L221.39,559.3L223.05,559.3L223.05,559.1L224.71,559.1L224.71,558.9L226.37,558.9L226.37,558.7L228.03,558.7L228.03,558.7L229.69,558.7L229.69,559.0L231.34,559.0L231.34,559.3L233.00,559.3L233.00,559.6L234.66,559.6L234.66,559.9L236.32,559.9L236.32,560.1L237.98,560.1L237.98,560.4L239.64,560.4L239.64,560.6L241.30,560.6L241.30,560.8L242.96,560.8L242.96,561.0L244.62,561.0L244.62,561.0L246.28,561.0L246.28,561.0L247.93,561.0L247.93,561.0L249.59,561.0L249.59,561.0L251.25,561.0L251.25,561.0L252.91,561.0L252.91,561.0L254.57,561.0L254.57,561.0L256.23,561.0L256.23,560.7L257.89,560.7L257.89,560.3L259.55,560.3L259.55,559.9L261.21,559.9L261.21,559.5L262.87,559.5L262.87,559.1L264.52,559.1L264.52,559.2L266.18,559.2L266.18,559.5L267.84,559.5L267.84,559.8L269.50,559.8L269.50,560.1L271.16,560.1L271.16,560.4L272.82,560.4L272.82,560.6L274.48,560.6L274.48,560.7L276.14,560.7L276.14,560.9L277.80,560.9L277.80,561.1L279.46,561.1L279.46,561.2L281.11,561.2L281.11,561.4L282.77,561.4L282.77,561.6L284.43,561.6L284.43,561.4L286.09,561.4L286.09,561.4L287.75,561.4L287.75,561.4L289.41,561.4L289.41,561.5L291.07,561.5L291.07,561.5L292.73,561.5L292.73,561.5L294.39,561.5L294.39,561.5L296.05,561.5L296.05,561.5L297.70,561.5L297.70,561.5L299.36,561.5L299.36,561.6L301.02,561.6L301.02,561.6L302.68,561.6L302.68,561.6L304.34,561.6L304.34,561.6L306.00,561.6L306.00,561.6L307.66,561.6L307.66,561.7L309.32,561.7L309.32,561.7L310.98,561.7L310.98,561.7L312.64,561.7L312.64,561.7L314.29,561.7L314.29,561.7L315.95,561.7L315.95,561.7L317.61,561.7L317.61,561.8L319.27,561.8L319.27,561.8L320.93,561.8L320.93,561.8L322.59,561.8L322.59,561.8L324.25,561.8L324.25,561.8L325.91,561.8L325.91,561.9L327.57,561.9L327.57,561.9L329.23,561.9L329.23,561.9L330.88,561.9L330.88,561.9L332.54,561.9L332.54,561.9L334.20,561.9L334.20,561.9L335.86,561.9L335.86,562.0L337.52,562.0L337.52,562.0L339.18,562.0L339.18,562.0L340.84,562.0L340.84,562.0L342.50,562.0L342.50,562.1L344.16,562.1L344.16,562.1L345.81,562.1L345.82,562.1L347.47,562.1L347.47,562.2L349.13,562.2L349.13,562.2L350.79,562.2L350.79,562.2L352.45,562.2L352.45,562.3L354.11,562.3L354.11,562.3L355.77,562.3L355.77,562.3L357.43,562.3L357.43,562.4L359.09,562.4L359.09,562.4L360.75,562.4L360.75,562.4L362.41,562.4L362.41,562.5L364.06,562.5L364.06,562.5L365.72,562.5L365.72,562.5L367.38,562.5L367.38,562.6L369.04,562.6L369.04,562.6L370.70,562.6L370.70,562.6L372.36,562.6L372.36,562.7L374.02,562.7L374.02,562.7L375.68,562.7L375.68,562.7L377.34,562.7L377.34,562.8L379.00,562.8L379.00,562.8L380.65,562.8L380.65,562.8L382.31,562.8L382.31,562.9L383.97,562.9L383.97,562.9L385.63,562.9L385.63,562.9L387.29,562.9L387.29,563.0L388.95,563.0L388.95,563.0L390.61,563.0L390.61,563.0L392.27,563.0L392.27,563.1L393.93,563.1L393.93,563.1L395.59,563.1L395.59,563.1L397.24,563.1L397.24,563.2L398.90,563.2L398.90,563.2L400.56,563.2L400.56,563.4L402.22,563.4L402.22,563.4L403.88,563.4L403.88,563.3L405.54,563.3L405.54,563.2L407.20,563.2L407.20,563.1L408.86,563.1L408.86,563.0L410.52,563.0L410.52,562.9L412.18,562.9L412.18,562.8L413.83,562.8L413.83,562.7L415.49,562.7L415.49,562.6L417.15,562.6L417.15,562.5L418.81,562.5L418.81,562.4L420.47,562.4L420.47,562.3L422.13,562.3L422.13,562.3L423.79,562.3L423.79,562.2L425.45,562.2L425.45,562.1L427.11,562.1L427.11,562.0L428.77,562.0L428.77,561.9L430.42,561.9L430.42,561.9L432.08,561.9L432.08,561.8L433.74,561.8L433.74,561.8L435.40,561.8L435.40,561.7L437.06,561.7L437.06,561.7L438.72,561.7L438.72,561.6L440.38,561.6L440.38,561.4L442.04,561.4L442.04,561.2L443.70,561.2L443.70,560.9L445.36,560.9L445.36,560.5L447.01,560.5L447.01,560.0L448.67,560.0L448.67,559.6L450.33,559.6L450.33,559.2L451.99,559.2L451.99,558.8L453.65,558.8L453.65,558.4L455.31,558.4L455.31,558.0L456.97,558.0L456.97,557.6L458.63,557.6L458.63,557.1L460.29,557.1L460.29,556.7L461.95,556.7L461.95,556.3L463.60,556.3L463.60,555.9L465.26,555.9L465.26,555.5L466.92,555.5L466.92,555.1L468.58,555.1L468.58,555.0L470.24,555.0L470.24,555.0L471.90,555.0L471.90,555.2L473.56,555.2L473.56,555.6L475.22,555.6L475.22,556.0L476.88,556.0L476.88,556.4L478.54,556.4L478.54,556.8L480.19,556.8L480.19,557.3L481.85,557.3L481.85,557.7L483.51,557.7L483.51,558.0L485.17,558.0L485.17,558.0L486.83,558.0L486.83,558.0L488.49,558.0L488.49,557.7L490.15,557.7L490.15,557.3L491.81,557.3L491.81,556.8L493.47,556.8L493.47,556.4L495.12,556.4L495.13,556.0L496.78,556.0L496.78,555.6L498.44,555.6L498.44,555.2L500.10,555.2L500.10,554.8L501.76,554.8L501.76,554.4L503.42,554.4L503.42,553.8L505.08,553.8L505.08,552.6L506.74,552.6L506.74,551.3L508.40,551.3L508.40,550.2L510.06,550.2L510.06,549.1L511.72,549.1L511.72,549.5L513.37,549.5L513.37,550.2L515.03,550.2L515.03,551.9L516.69,551.9L516.69,553.3L518.35,553.3L518.35,554.5L520.01,554.5L520.01,555.4L521.67,555.4L521.67,556.2L523.33,556.2L523.33,557.0L524.99,557.0L524.99,557.5L526.65,557.5L526.65,557.9L528.31,557.9L528.31,558.3L529.96,558.3L529.96,558.7L531.62,558.7L531.62,559.0L533.28,559.0L533.28,559.0L534.94,559.0L534.94,559.0L536.60,559.0L536.60,559.4L538.26,559.4L538.26,559.8L539.92,559.8L539.92,558.5L541.58,558.5L541.58,558.9L543.24,558.9L543.24,559.3L544.89,559.3L544.89,559.8L546.55,559.8L546.55,560.0L548.21,560.0L548.21,560.0L549.87,560.0L549.87,560.0L551.53,560.0L551.53,560.0L553.19,560.0L553.19,560.1L554.85,560.1L554.85,560.5L556.51,560.5L556.51,560.8L558.17,560.8L558.17,561.1L559.83,561.1L559.83,561.4L561.49,561.4L561.49,561.7L563.14,561.7L563.14,562.0L564.80,562.0L564.80,562.3L566.46,562.3L566.46,562.5L568.12,562.5L568.12,562.7L569.78,562.7L569.78,562.8L571.44,562.8L571.44,562.9L573.10,562.9L573.10,563.1L574.76,563.1L574.76,563.2L576.42,563.2L576.42,563.4L578.08,563.4L578.08,563.6L579.73,563.6L579.73,563.6L581.39,563.6L581.39,563.6L583.05,563.6L583.05,563.5L584.71,563.5L584.71,563.5L586.37,563.5L586.37,563.4L588.03,563.4L588.03,563.4L589.69,563.4L589.69,563.4L591.35,563.4L591.35,563.4L593.01,563.4L593.01,563.5L594.67,563.5L594.67,563.6L596.32,563.6L596.32,563.7L597.98,563.7L597.98,563.7L599.64,563.7L599.64,563.7L601.30,563.7L601.30,563.7L602.96,563.7L602.96,566.4Z" fill="#196be6"/>
<path d="M5.72,566.4L5.72,566.1L7.38,566.1L7.38,566.1L9.04,566.1L9.04,566.1L10.70,566.1L10.70,565.9L12.36,565.9L12.36,565.8L14.02,565.8L14.02,565.6L15.67,565.6L15.67,565.5L17.33,565.5L17.33,565.5L18.99,565.5L18.99,565.4L20.65,565.4L20.65,565.3L22.31,565.3L22.31,565.2L23.97,565.2L23.97,565.2L25.63,565.2L25.63,565.1L27.29,565.1L27.29,565.0L28.95,565.0L28.95,564.9L30.60,564.9L30.61,564.9L32.26,564.9L32.26,564.8L33.92,564.8L33.92,564.7L35.58,564.7L35.58,564.7L37.24,564.7L37.24,564.6L38.90,564.6L38.90,564.5L40.56,564.5L40.56,564.5L42.22,564.5L42.22,564.5L43.88,564.5L43.88,564.5L45.54,564.5L45.54,564.5L47.20,564.5L47.20,564.5L48.85,564.5L48.85,564.5L50.51,564.5L50.51,564.5L52.17,564.5L52.17,564.5L53.83,564.5L53.83,564.5L55.49,564.5L55.49,564.5L57.15,564.5L57.15,564.5L58.81,564.5L58.81,564.5L60.47,564.5L60.47,564.5L62.13,564.5L62.13,564.5L63.78,564.5L63.78,564.5L65.44,564.5L65.44,564.5L67.10,564.5L67.10,564.5L68.76,564.5L68.76,564.5L70.42,564.5L70.42,564.5L72.08,564.5L72.08,564.5L73.74,564.5L73.74,564.5L75.40,564.5L75.40,564.5L77.06,564.5L77.06,564.5L78.72,564.5L78.72,564.5L80.38,564.5L80.38,564.5L82.03,564.5L82.03,564.5L83.69,564.5L83.69,564.5L85.35,564.5L85.35,564.5L87.01,564.5L87.01,564.5L88.67,564.5L88.67,564.5L90.33,564.5L90.33,564.5L91.99,564.5L91.99,564.5L93.65,564.5L93.65,564.5L95.31,564.5L95.31,564.6L96.97,564.6L96.97,564.6L98.62,564.6L98.62,564.6L100.28,564.6L100.28,564.6L101.94,564.6L101.94,564.6L103.60,564.6L103.60,564.6L105.26,564.6L105.26,564.6L106.92,564.6L106.92,564.6L108.58,564.6L108.58,564.6L110.24,564.6L110.24,564.6L111.90,564.6L111.90,564.6L113.56,564.6L113.56,564.6L115.21,564.6L115.21,564.6L116.87,564.6L116.87,564.6L118.53,564.6L118.53,564.6L120.19,564.6L120.19,564.6L121.85,564.6L121.85,564.6L123.51,564.6L123.51,564.7L125.17,564.7L125.17,564.7L126.83,564.7L126.83,564.7L128.49,564.7L128.49,564.7L130.15,564.7L130.15,564.7L131.80,564.7L131.80,564.7L133.46,564.7L133.46,564.7L135.12,564.7L135.12,564.7L136.78,564.7L136.78,564.7L138.44,564.7L138.44,564.7L140.10,564.7L140.10,564.7L141.76,564.7L141.76,564.7L143.42,564.7L143.42,564.7L145.08,564.7L145.08,564.7L146.73,564.7L146.74,564.7L148.39,564.7L148.39,564.7L150.05,564.7L150.05,564.7L151.71,564.7L151.71,564.6L153.37,564.6L153.37,564.5L155.03,564.5L155.03,564.4L156.69,564.4L156.69,564.3L158.35,564.3L158.35,564.2L160.01,564.2L160.01,564.1L161.67,564.1L161.67,564.0L163.32,564.0L163.32,563.9L164.98,563.9L164.98,563.8L166.64,563.8L166.64,563.7L168.30,563.7L168.30,563.9L169.96,563.9L169.96,563.7L171.62,563.7L171.62,563.6L173.28,563.6L173.28,563.4L174.94,563.4L174.94,563.2L176.60,563.2L176.60,563.0L178.26,563.0L178.26,562.8L179.91,562.8L179.91,562.7L181.57,562.7L181.57,562.6L183.23,562.6L183.23,562.6L184.89,562.6L184.89,562.5L186.55,562.5L186.55,562.5L188.21,562.5L188.21,562.4L189.87,562.4L189.87,562.4L191.53,562.4L191.53,562.3L193.19,562.3L193.19,562.3L194.85,562.3L194.85,562.2L196.50,562.2L196.50,562.2L198.16,562.2L198.16,562.1L199.82,562.1L199.82,562.1L201.48,562.1L201.48,562.1L203.14,562.1L203.14,562.0L204.80,562.0L204.80,562.0L206.46,562.0L206.46,562.0L208.12,562.0L208.12,561.9L209.78,561.9L209.78,561.9L211.44,561.9L211.44,561.9L213.09,561.9L213.09,561.8L214.75,561.8L214.75,561.8L216.41,561.8L216.41,561.8L218.07,561.8L218.07,561.7L219.73,561.7L219.73,561.7L221.39,561.7L221.39,561.7L223.05,561.7L223.05,561.7L224.71,561.7L224.71,561.7L226.37,561.7L226.37,561.7L228.03,561.7L228.03,561.7L229.69,561.7L229.69,561.7L231.34,561.7L231.34,561.7L233.00,561.7L233.00,561.7L234.66,561.7L234.66,561.7L236.32,561.7L236.32,561.7L237.98,561.7L237.98,561.7L239.64,561.7L239.64,561.7L241.30,561.7L241.30,561.7L242.96,561.7L242.96,561.6L244.62,561.6L244.62,561.6L246.28,561.6L246.28,561.6L247.93,561.6L247.93,561.5L249.59,561.5L249.59,561.5L251.25,561.5L251.25,561.5L252.91,561.5L252.91,561.4L254.57,561.4L254.57,561.4L256.23,561.4L256.23,561.4L257.89,561.4L257.89,561.3L259.55,561.3L259.55,561.3L261.21,561.3L261.21,561.3L262.87,561.3L262.87,561.4L264.52,561.4L264.52,561.4L266.18,561.4L266.18,561.4L267.84,561.4L267.84,561.5L269.50,561.5L269.50,561.5L271.16,561.5L271.16,561.5L272.82,561.5L272.82,561.6L274.48,561.6L274.48,561.6L276.14,561.6L276.14,561.6L277.80,561.6L277.80,561.7L279.46,561.7L279.46,561.7L281.11,561.7L281.11,561.7L282.77,561.7L282.77,561.8L284.43,561.8L284.43,562.1L286.09,562.1L286.09,562.1L287.75,562.1L287.75,562.1L289.41,562.1L289.41,562.2L291.07,562.2L291.07,562.2L292.73,562.2L292.73,562.2L294.39,562.2L294.39,562.2L296.05,562.2L296.05,562.2L297.70,562.2L297.70,562.2L299.36,562.2L299.36,562.2L301.02,562.2L301.02,562.2L302.68,562.2L302.68,562.3L304.34,562.3L304.34,562.3L306.00,562.3L306.00,562.3L307.66,562.3L307.66,562.3L309.32,562.3L309.32,562.3L310.98,562.3L310.98,562.3L312.64,562.3L312.64,562.3L314.29,562.3L314.29,562.4L315.95,562.4L315.95,562.4L317.61,562.4L317.61,562.4L319.27,562.4L319.27,562.4L320.93,562.4L320.93,562.4L322.59,562.4L322.59,562.4L324.25,562.4L324.25,562.4L325.91,562.4L325.91,562.5L327.57,562.5L327.57,562.5L329.23,562.5L329.23,562.5L330.88,562.5L330.88,562.5L332.54,562.5L332.54,562.5L334.20,562.5L334.20,562.5L335.86,562.5L335.86,562.6L337.52,562.6L337.52,562.6L339.18,562.6L339.18,562.6L340.84,562.6L340.84,562.6L342.50,562.6L342.50,562.6L344.16,562.6L344.16,562.7L345.81,562.7L345.82,562.7L347.47,562.7L347.47,562.7L349.13,562.7L349.13,562.7L350.79,562.7L350.79,562.8L352.45,562.8L352.45,562.8L354.11,562.8L354.11,562.8L355.77,562.8L355.77,562.8L357.43,562.8L357.43,562.9L359.09,562.9L359.09,562.9L360.75,562.9L360.75,562.9L362.41,562.9L362.41,562.9L364.06,562.9L364.06,563.0L365.72,563.0L365.72,563.0L367.38,563.0L367.38,563.0L369.04,563.0L369.04,563.0L370.70,563.0L370.70,563.1L372.36,563.1L372.36,563.1L374.02,563.1L374.02,563.1L375.68,563.1L375.68,563.1L377.34,563.1L377.34,563.2L379.00,563.2L379.00,563.2L380.65,563.2L380.65,563.2L382.31,563.2L382.31,563.2L383.97,563.2L383.97,563.3L385.63,563.3L385.63,563.3L387.29,563.3L387.29,563.3L388.95,563.3L388.95,563.3L390.61,563.3L390.61,563.4L392.27,563.4L392.27,563.4L393.93,563.4L393.93,563.4L395.59,563.4L395.59,563.4L397.24,563.4L397.24,563.5L398.90,563.5L398.90,563.5L400.56,563.5L400.56,563.4L402.22,563.4L402.22,563.4L403.88,563.4L403.88,563.5L405.54,563.5L405.54,563.5L407.20,563.5L407.20,563.5L408.86,563.5L408.86,563.5L410.52,563.5L410.52,563.6L412.18,563.6L412.18,563.6L413.83,563.6L413.83,563.6L415.49,563.6L415.49,563.6L417.15,563.6L417.15,563.7L418.81,563.7L418.81,563.7L420.47,563.7L420.47,563.7L422.13,563.7L422.13,563.8L423.79,563.8L423.79,563.8L425.45,563.8L425.45,563.8L427.11,563.8L427.11,563.9L428.77,563.9L428.77,563.9L430.42,563.9L430.42,563.9L432.08,563.9L432.08,563.9L433.74,563.9L433.74,563.9L435.40,563.9L435.40,563.9L437.06,563.9L437.06,563.9L438.72,563.9L438.72,563.9L440.38,563.9L440.38,564.2L442.04,564.2L442.04,564.6L443.70,564.6L443.70,564.8L445.36,564.8L445.36,564.8L447.01,564.8L447.01,564.9L448.67,564.9L448.67,564.9L450.33,564.9L450.33,564.9L451.99,564.9L451.99,564.9L453.65,564.9L453.65,564.9L455.31,564.9L455.31,564.9L456.97,564.9L456.97,564.9L458.63,564.9L458.63,564.9L460.29,564.9L460.29,564.9L461.95,564.9L461.95,564.9L463.60,564.9L463.60,564.9L465.26,564.9L465.26,564.9L466.92,564.9L466.92,564.9L468.58,564.9L468.58,564.9L470.24,564.9L470.24,564.9L471.90,564.9L471.90,564.9L473.56,564.9L473.56,564.9L475.22,564.9L475.22,564.9L476.88,564.9L476.88,564.9L478.54,564.9L478.54,564.9L480.19,564.9L480.19,564.9L481.85,564.9L481.85,564.9L483.51,564.9L483.51,564.9L485.17,564.9L485.17,564.9L486.83,564.9L486.83,564.9L488.49,564.9L488.49,564.9L490.15,564.9L490.15,564.9L491.81,564.9L491.81,564.9L493.47,564.9L493.47,564.9L495.12,564.9L495.13,564.8L496.78,564.8L496.78,564.8L498.44,564.8L498.44,564.8L500.10,564.8L500.10,564.8L501.76,564.8L501.76,564.8L503.42,564.8L503.42,564.8L505.08,564.8L505.08,564.8L506.74,564.8L506.74,564.8L508.40,564.8L508.40,564.8L510.06,564.8L510.06,564.8L511.72,564.8L511.72,564.8L513.37,564.8L513.37,564.8L515.03,564.8L515.03,564.8L516.69,564.8L516.69,564.9L518.35,564.9L518.35,564.9L520.01,564.9L520.01,564.9L521.67,564.9L521.67,564.9L523.33,564.9L523.33,564.9L524.99,564.9L524.99,564.9L526.65,564.9L526.65,564.9L528.31,564.9L528.31,564.9L529.96,564.9L529.96,564.9L531.62,564.9L531.62,564.9L533.28,564.9L533.28,565.0L534.94,565.0L534.94,565.0L536.60,565.0L536.60,565.0L538.26,565.0L538.26,565.0L539.92,565.0L539.92,565.1L541.58,565.1L541.58,565.1L543.24,565.1L543.24,565.1L544.89,565.1L544.89,565.1L546.55,565.1L546.55,565.1L548.21,565.1L548.21,565.2L549.87,565.2L549.87,565.2L551.53,565.2L551.53,565.2L553.19,565.2L553.19,565.2L554.85,565.2L554.85,565.2L556.51,565.2L556.51,565.2L558.17,565.2L558.17,565.2L559.83,565.2L559.83,565.2L561.49,565.2L561.49,565.2L563.14,565.2L563.14,565.2L564.80,565.2L564.80,565.2L566.46,565.2L566.46,565.2L568.12,565.2L568.12,565.2L569.78,565.2L569.78,565.2L571.44,565.2L571.44,565.2L573.10,565.2L573.10,565.3L574.76,565.3L574.76,565.3L576.42,565.3L576.42,565.3L578.08,565.3L578.08,565.3L579.73,565.3L579.73,565.3L581.39,565.3L581.39,565.3L583.05,565.3L583.05,565.3L584.71,565.3L584.71,565.3L586.37,565.3L586.37,565.3L588.03,565.3L588.03,565.3L589.69,565.3L589.69,565.3L591.35,565.3L591.35,565.3L593.01,565.3L593.01,565.3L594.67,565.3L594.67,565.3L596.32,565.3L596.32,565.3L597.98,565.3L597.98,565.3L599.64,565.3L599.64,565.4L601.30,565.4L601.30,565.4L602.96,565.4L602.96,566.4Z" fill="#19e680"/>
<path d="M5.72,566.4L5.72,566.1L7.38,566.1L7.38,566.1L9.04,566.1L9.04,566.1L10.70,566.1L10.70,565.9L12.36,565.9L12.36,565.8L14.02,565.8L14.02,565.6L15.67,565.6L15.67,565.5L17.33,565.5L17.33,565.5L18.99,565.5L18.99,565.4L20.65,565.4L20.65,565.3L22.31,565.3L22.31,565.2L23.97,565.2L23.97,565.2L25.63,565.2L25.63,565.1L27.29,565.1L27.29,565.0L28.95,565.0L28.95,564.9L30.60,564.9L30.61,564.9L32.26,564.9L32.26,564.8L33.92,564.8L33.92,564.7L35.58,564.7L35.58,564.7L37.24,564.7L37.24,564.6L38.90,564.6L38.90,564.5L40.56,564.5L40.56,564.5L42.22,564.5L42.22,564.5L43.88,564.5L43.88,564.5L45.54,564.5L45.54,564.5L47.20,564.5L47.20,564.5L48.85,564.5L48.85,564.5L50.51,564.5L50.51,564.5L52.17,564.5L52.17,564.5L53.83,564.5L53.83,564.5L55.49,564.5L55.49,564.5L57.15,564.5L57.15,564.5L58.81,564.5L58.81,564.5L60.47,564.5L60.47,564.5L62.13,564.5L62.13,564.5L63.78,564.5L63.78,564.5L65.44,564.5L65.44,564.5L67.10,564.5L67.10,564.5L68.76,564.5L68.76,564.5L70.42,564.5L70.42,564.5L72.08,564.5L72.08,564.5L73.74,564.5L73.74,564.5L75.40,564.5L75.40,564.5L77.06,564.5L77.06,564.5L78.72,564.5L78.72,564.5L80.38,564.5L80.38,564.5L82.03,564.5L82.03,564.5L83.69,564.5L83.69,564.5L85.35,564.5L85.35,564.5L87.01,564.5L87.01,564.5L88.67,564.5L88.67,564.5L90.33,564.5L90.33,564.5L91.99,564.5L91.99,564.5L93.65,564.5L93.65,564.5L95.31,564.5L95.31,564.6L96.97,564.6L96.97,564.6L98.62,564.6L98.62,564.6L100.28,564.6L100.28,564.6L101.94,564.6L101.94,564.6L103.60,564.6L103.60,564.6L105.26,564.6L105.26,564.6L106.92,564.6L106.92,564.6L108.58,564.6L108.58,564.6L110.24,564.6L110.24,564.6L111.90,564.6L111.90,564.6L113.56,564.6L113.56,564.6L115.21,564.6L115.21,564.6L116.87,564.6L116.87,564.6L118.53,564.6L118.53,564.6L120.19,564.6L120.19,564.6L121.85,564.6L121.85,564.6L123.51,564.6L123.51,564.7L125.17,564.7L125.17,564.7L126.83,564.7L126.83,564.7L128.49,564.7L128.49,564.7L130.15,564.7L130.15,564.7L131.80,564.7L131.80,564.7L133.46,564.7L133.46,564.7L135.12,564.7L135.12,564.7L136.78,564.7L136.78,564.7L138.44,564.7L138.44,564.7L140.10,564.7L140.10,564.7L141.76,564.7L141.76,564.7L143.42,564.7L143.42,564.7L145.08,564.7L145.08,564.7L146.73,564.7L146.74,564.7L148.39,564.7L148.39,564.7L150.05,564.7L150.05,564.7L151.71,564.7L151.71,564.7L153.37,564.7L153.37,564.7L155.03,564.7L155.03,564.8L156.69,564.8L156.69,564.8L158.35,564.8L158.35,564.8L160.01,564.8L160.01,564.8L161.67,564.8L161.67,564.8L163.32,564.8L163.32,564.9L164.98,564.9L164.98,564.9L166.64,564.9L166.64,564.9L168.30,564.9L168.30,565.3L169.96,565.3L169.96,565.2L171.62,565.2L171.62,565.2L173.28,565.2L173.28,565.2L174.94,565.2L174.94,565.1L176.60,565.1L176.60,565.1L178.26,565.1L178.26,565.0L179.91,565.0L179.91,565.0L181.57,565.0L181.57,564.9L183.23,564.9L183.23,564.9L184.89,564.9L184.89,564.8L186.55,564.8L186.55,564.8L188.21,564.8L188.21,564.7L189.87,564.7L189.87,564.7L191.53,564.7L191.53,564.6L193.19,564.6L193.19,564.6L194.85,564.6L194.85,564.5L196.50,564.5L196.50,564.5L198.16,564.5L198.16,564.4L199.82,564.4L199.82,564.4L201.48,564.4L201.48,564.4L203.14,564.4L203.14,564.3L204.80,564.3L204.80,564.3L206.46,564.3L206.46,564.3L208.12,564.3L208.12,564.2L209.78,564.2L209.78,564.2L211.44,564.2L211.44,564.2L213.09,564.2L213.09,564.1L214.75,564.1L214.75,564.1L216.41,564.1L216.41,564.1L218.07,564.1L218.07,564.0L219.73,564.0L219.73,564.0L221.39,564.0L221.39,564.0L223.05,564.0L223.05,564.0L224.71,564.0L224.71,564.0L226.37,564.0L226.37,564.0L228.03,564.0L228.03,564.0L229.69,564.0L229.69,564.0L231.34,564.0L231.34,564.0L233.00,564.0L233.00,564.0L234.66,564.0L234.66,564.0L236.32,564.0L236.32,564.0L237.98,564.0L237.98,564.0L239.64,564.0L239.64,564.0L241.30,564.0L241.30,564.0L242.96,564.0L242.96,563.9L244.62,563.9L244.62,563.9L246.28,563.9L246.28,563.9L247.93,563.9L247.93,563.8L249.59,563.8L249.59,563.8L251.25,563.8L251.25,563.8L252.91,563.8L252.91,563.7L254.57,563.7L254.57,563.7L256.23,563.7L256.23,563.7L257.89,563.7L257.89,563.6L259.55,563.6L259.55,563.6L261.21,563.6L261.21,563.6L262.87,563.6L262.87,563.7L264.52,563.7L264.52,563.7L266.18,563.7L266.18,563.7L267.84,563.7L267.84,563.8L269.50,563.8L269.50,563.8L271.16,563.8L271.16,563.8L272.82,563.8L272.82,563.9L274.48,563.9L274.48,563.9L276.14,563.9L276.14,563.9L277.80,563.9L277.80,564.0L279.46,564.0L279.46,564.0L281.11,564.0L281.11,564.0L282.77,564.0L282.77,564.1L284.43,564.1L284.43,564.4L286.09,564.4L286.09,564.4L287.75,564.4L287.75,564.4L289.41,564.4L289.41,564.4L291.07,564.4L291.07,564.4L292.73,564.4L292.73,564.4L294.39,564.4L294.39,564.4L296.05,564.4L296.05,564.4L297.70,564.4L297.70,564.4L299.36,564.4L299.36,564.4L301.02,564.4L301.02,564.4L302.68,564.4L302.68,564.4L304.34,564.4L304.34,564.4L306.00,564.4L306.00,564.4L307.66,564.4L307.66,564.4L309.32,564.4L309.32,564.4L310.98,564.4L310.98,564.4L312.64,564.4L312.64,564.5L314.29,564.5L314.29,564.5L315.95,564.5L315.95,564.5L317.61,564.5L317.61,564.5L319.27,564.5L319.27,564.5L320.93,564.5L320.93,564.5L322.59,564.5L322.59,564.5L324.25,564.5L324.25,564.5L325.91,564.5L325.91,564.5L327.57,564.5L327.57,564.5L329.23,564.5L329.23,564.5L330.88,564.5L330.88,564.5L332.54,564.5L332.54,564.5L334.20,564.5L334.20,564.5L335.86,564.5L335.86,564.5L337.52,564.5L337.52,564.5L339.18,564.5L339.18,564.5L340.84,564.5L340.84,564.5L342.50,564.5L342.50,564.5L344.16,564.5L344.16,564.5L345.81,564.5L345.82,564.6L347.47,564.6L347.47,564.6L349.13,564.6L349.13,564.6L350.79,564.6L350.79,564.6L352.45,564.6L352.45,564.6L354.11,564.6L354.11,564.6L355.77,564.6L355.77,564.6L357.43,564.6L357.43,564.7L359.09,564.7L359.09,564.7L360.75,564.7L360.75,564.7L362.41,564.7L362.41,564.7L364.06,564.7L364.06,564.7L365.72,564.7L365.72,564.7L367.38,564.7L367.38,564.7L369.04,564.7L369.04,564.7L370.70,564.7L370.70,564.8L372.36,564.8L372.36,564.8L374.02,564.8L374.02,564.8L375.68,564.8L375.68,564.8L377.34,564.8L377.34,564.8L379.00,564.8L379.00,564.8L380.65,564.8L380.65,564.8L382.31,564.8L382.31,564.9L383.97,564.9L383.97,564.9L385.63,564.9L385.63,564.9L387.29,564.9L387.29,564.9L388.95,564.9L388.95,564.9L390.61,564.9L390.61,564.9L392.27,564.9L392.27,564.9L393.93,564.9L393.93,565.0L395.59,565.0L395.59,565.0L397.24,565.0L397.24,565.0L398.90,565.0L398.90,565.0L400.56,565.0L400.56,564.9L402.22,564.9L402.22,564.9L403.88,564.9L403.88,564.8L405.54,564.8L405.54,564.8L407.20,564.8L407.20,564.8L408.86,564.8L408.86,564.8L410.52,564.8L410.52,564.7L412.18,564.7L412.18,564.7L413.83,564.7L413.83,564.7L415.49,564.7L415.49,564.7L417.15,564.7L417.15,564.6L418.81,564.6L418.81,564.6L420.47,564.6L420.47,564.6L422.13,564.6L422.13,564.6L423.79,564.6L423.79,564.6L425.45,564.6L425.45,564.5L427.11,564.5L427.11,564.5L428.77,564.5L428.77,564.5L430.42,564.5L430.42,564.5L432.08,564.5L432.08,564.5L433.74,564.5L433.74,564.5L435.40,564.5L435.40,564.4L437.06,564.4L437.06,564.4L438.72,564.4L438.72,564.4L440.38,564.4L440.38,564.6L442.04,564.6L442.04,565.0L443.70,565.0L443.70,565.2L445.36,565.2L445.36,565.2L447.01,565.2L447.01,565.2L448.67,565.2L448.67,565.2L450.33,565.2L450.33,565.2L451.99,565.2L451.99,565.2L453.65,565.2L453.65,565.2L455.31,565.2L455.31,565.2L456.97,565.2L456.97,565.2L458.63,565.2L458.63,565.2L460.29,565.2L460.29,565.2L461.95,565.2L461.95,565.2L463.60,565.2L463.60,565.2L465.26,565.2L465.26,565.2L466.92,565.2L466.92,565.2L468.58,565.2L468.58,565.2L470.24,565.2L470.24,565.2L471.90,565.2L471.90,565.2L473.56,565.2L473.56,565.2L475.22,565.2L475.22,565.2L476.88,565.2L476.88,565.2L478.54,565.2L478.54,565.2L480.19,565.2L480.19,565.2L481.85,565.2L481.85,565.2L483.51,565.2L483.51,565.2L485.17,565.2L485.17,565.2L486.83,565.2L486.83,565.2L488.49,565.2L488.49,565.2L490.15,565.2L490.15,565.2L491.81,565.2L491.81,565.2L493.47,565.2L493.47,565.2L495.12,565.2L495.13,565.1L496.78,565.1L496.78,565.1L498.44,565.1L498.44,565.1L500.10,565.1L500.10,565.1L501.76,565.1L501.76,565.1L503.42,565.1L503.42,565.1L505.08,565.1L505.08,565.1L506.74,565.1L506.74,565.1L508.40,565.1L508.40,565.1L510.06,565.1L510.06,565.1L511.72,565.1L511.72,565.1L513.37,565.1L513.37,565.1L515.03,565.1L515.03,565.1L516.69,565.1L516.69,565.2L518.35,565.2L518.35,565.2L520.01,565.2L520.01,565.2L521.67,565.2L521.67,565.2L523.33,565.2L523.33,565.2L524.99,565.2L524.99,565.2L526.65,565.2L526.65,565.2L528.31,565.2L528.31,565.2L529.96,565.2L529.96,565.2L531.62,565.2L531.62,565.2L533.28,565.2L533.28,565.3L534.94,565.3L534.94,565.3L536.60,565.3L536.60,565.3L538.26,565.3L538.26,565.3L539.92,565.3L539.92,565.4L541.58,565.4L541.58,565.4L543.24,565.4L543.24,565.4L544.89,565.4L544.89,565.4L546.55,565.4L546.55,565.4L548.21,565.4L548.21,565.5L549.87,565.5L549.87,565.5L551.53,565.5L551.53,565.5L553.19,565.5L553.19,565.5L554.85,565.5L554.85,565.5L556.51,565.5L556.51,565.5L558.17,565.5L558.17,565.5L559.83,565.5L559.83,565.5L561.49,565.5L561.49,565.5L563.14,565.5L563.14,565.5L564.80,565.5L564.80,565.5L566.46,565.5L566.46,565.5L568.12,565.5L568.12,565.5L569.78,565.5L569.78,565.5L571.44,565.5L571.44,565.5L573.10,565.5L573.10,565.6L574.76,565.6L574.76,565.6L576.42,565.6L576.42,565.6L578.08,565.6L578.08,565.6L579.73,565.6L579.73,565.6L581.39,565.6L581.39,565.6L583.05,565.6L583.05,565.6L584.71,565.6L584.71,565.6L586.37,565.6L586.37,565.6L588.03,565.6L588.03,565.6L589.69,565.6L589.69,565.6L591.35,565.6L591.35,565.6L593.01,565.6L593.01,565.6L594.67,565.6L594.67,565.6L596.32,565.6L596.32,565.6L597.98,565.6L597.98,565.6L599.64,565.6L599.64,565.7L601.30,565.7L601.30,565.7L602.96,565.7L602.96,566.4Z" fill="#19c0e6"/>
<path d="M7.38,563.1V565.9M9.04,561.9V565.9M10.70,560.6V565.9M12.36,558.8V565.9M14.02,555.0V565.9M15.67,550.6V565.9M17.33,545.6V565.9M18.99,543.1V565.9M20.65,540.6V565.9M22.31,535.0V565.9M23.97,533.1V565.9M25.63,532.5V565.9M27.29,532.5V565.9M28.95,529.4V565.9M30.61,525.6V565.9M32.26,522.5V565.9M33.92,522.5V565.9M35.58,524.4V565.9M37.24,524.4V565.9M38.90,521.9V565.9M40.56,520.6V565.9M42.22,521.2V565.9M43.88,523.1V565.9M45.54,523.1V565.9M47.20,523.1V565.9M48.85,519.4V565.9M50.51,517.5V565.9M52.17,516.9V565.9M53.83,511.2V565.9M55.49,503.5V565.9M57.15,503.5V565.9M58.81,503.1V565.9M60.47,506.9V565.9M62.13,510.0V565.9M63.78,513.1V565.9M65.44,521.9V565.9M67.10,521.9V565.9M68.76,520.0V565.9M70.42,520.0V565.9M72.08,518.1V565.9M73.74,518.8V565.9M75.40,521.9V565.9M77.06,521.9V565.9M78.72,523.8V565.9M80.38,523.8V565.9M82.03,515.6V565.9M83.69,515.0V565.9M85.35,515.6V565.9M87.01,515.6V565.9M88.67,503.8V565.9M90.33,505.0V565.9M91.99,505.6V565.9M93.65,507.5V565.9M95.31,509.4V565.9M96.97,513.8V565.9M98.62,516.9V565.9M100.28,518.1V565.9M101.94,519.4V565.9M103.60,526.2V565.9M105.26,527.2V565.9M106.92,531.2V565.9M108.58,531.2V565.9M110.24,531.2V565.9M111.90,531.2V565.9M113.56,530.0V565.9M115.21,528.8V565.9M116.87,528.1V565.9M118.53,527.2V565.9M120.19,528.1V565.9M121.85,528.1V565.9M123.51,529.4V565.9M125.17,529.4V565.9M126.83,528.8V565.9M128.49,527.2V565.9M130.15,533.1V565.9M131.80,533.1V565.9M133.46,532.5V565.9M135.12,533.1V565.9M136.78,533.1V565.9M138.44,532.5V565.9M140.10,531.9V565.9M141.76,529.4V565.9M143.42,524.4V565.9M145.08,525.0V565.9M146.74,525.0V565.9M148.39,523.1V565.9M150.05,524.4V565.9M151.71,525.6V565.9M153.37,526.9V565.9M155.03,528.8V565.9M156.69,530.6V565.9M158.35,533.1V565.9M160.01,533.1V565.9M161.67,533.1V565.9M163.32,532.5V565.9M164.98,533.1V565.9M166.64,533.1V565.9M168.30,530.6V565.9M169.96,523.8V565.9M171.62,520.0V565.9M173.28,516.9V565.9M174.94,513.1V565.9M176.60,507.5V565.9M178.26,496.2V565.9M179.91,488.8V565.9M181.57,486.2V565.9M183.23,483.1V565.9M184.89,477.5V565.9M186.55,475.6V565.9M188.21,480.0V565.9M189.87,481.2V565.9M191.53,481.2V565.9M193.19,475.0V565.9M194.85,467.5V565.9M196.50,471.2V565.9M198.16,471.2V565.9M199.82,468.1V565.9M201.48,465.0V565.9M203.14,465.0V565.9M204.80,457.5V565.9M206.46,456.2V565.9M208.12,448.8V565.9M209.78,440.0V565.9M211.44,436.2V565.9M213.09,426.2V565.9M214.75,414.4V565.9M216.41,405.0V565.9M218.07,397.5V565.9M219.73,391.9V565.9M221.39,389.4V565.9M223.05,388.1V565.9M224.71,394.4V565.9M226.37,399.4V565.9M228.03,405.0V565.9M229.69,410.6V565.9M231.34,411.2V565.9M233.00,413.8V565.9M234.66,425.0V565.9M236.32,429.4V565.9M237.98,429.4V565.9M239.64,428.1V565.9M241.30,428.8V565.9M242.96,433.8V565.9M244.62,434.4V565.9M246.28,434.4V565.9M247.93,435.0V565.9M249.59,436.2V565.9M251.25,440.0V565.9M252.91,440.0V565.9M254.57,438.8V565.9M256.23,438.8V565.9M257.89,436.2V565.9M259.55,436.2V565.9M261.21,431.2V565.9M262.87,430.6V565.9M264.52,433.8V565.9M266.18,433.8V565.9M267.84,437.5V565.9M269.50,442.5V565.9M271.16,447.5V565.9M272.82,454.4V565.9M274.48,458.8V565.9M276.14,464.4V565.9M277.80,466.9V565.9M279.46,466.9V565.9M281.11,466.2V565.9M282.77,466.2V565.9M284.43,466.2V565.9M286.09,465.6V565.9M287.75,466.2V565.9M289.41,466.2V565.9M291.07,468.1V565.9M292.73,470.0V565.9M294.39,470.0V565.9M296.05,470.6V565.9M297.70,471.2V565.9M299.36,471.2V565.9M301.02,471.2V565.9M302.68,473.8V565.9M304.34,480.0V565.9M306.00,483.1V565.9M307.66,485.0V565.9M309.32,493.1V565.9M310.98,493.1V565.9M312.64,490.0V565.9M314.29,490.0V565.9M315.95,490.0V565.9M317.61,480.6V565.9M319.27,478.1V565.9M320.93,478.1V565.9M322.59,478.8V565.9M324.25,480.0V565.9M325.91,480.6V565.9M327.57,488.8V565.9M329.23,494.4V565.9M330.88,495.6V565.9M332.54,495.6V565.9M334.20,496.9V565.9M335.86,499.4V565.9M337.52,499.4V565.9M339.18,498.8V565.9M340.84,500.0V565.9M342.50,503.1V565.9M344.16,511.2V565.9M345.82,515.0V565.9M347.47,516.2V565.9M349.13,519.4V565.9M350.79,524.4V565.9M352.45,526.2V565.9M354.11,528.8V565.9M355.77,529.4V565.9M357.43,529.4V565.9M359.09,526.9V565.9M360.75,526.2V565.9M362.41,526.2V565.9M364.06,524.4V565.9M365.72,523.8V565.9M367.38,524.4V565.9M369.04,524.4V565.9M370.70,523.1V565.9M372.36,523.1V565.9M374.02,523.1V565.9M375.68,523.1V565.9M377.34,523.8V565.9M379.00,523.8V565.9M380.65,521.9V565.9M382.31,517.5V565.9M383.97,515.0V565.9M385.63,511.2V565.9M387.29,508.8V565.9M388.95,504.4V565.9M390.61,498.1V565.9M392.27,498.1V565.9M393.93,497.5V565.9M395.59,493.8V565.9M397.24,493.8V565.9M398.90,486.2V565.9M400.56,480.0V565.9M402.22,467.7V565.9M403.88,457.6V565.9M405.54,442.9V565.9M407.20,438.1V565.9M408.86,435.8V565.9M410.52,433.4V565.9M412.18,433.8V565.9M413.83,433.8V565.9M415.49,432.7V565.9M417.15,429.4V565.9M418.81,426.0V565.9M420.47,422.5V565.9M422.13,412.5V565.9M423.79,407.0V565.9M425.45,392.5V565.9M427.11,386.0V565.9M428.77,375.0V565.9M430.42,372.0V565.9M432.08,368.8V565.9M433.74,367.0V565.9M435.40,362.5V565.9M437.06,384.0V565.9M438.72,392.5V565.9M440.38,392.5V565.9M442.04,391.0V565.9M443.70,380.0V565.9M445.36,361.0V565.9M447.01,349.0V565.9M448.67,312.0V565.9M450.33,264.4V565.9M451.99,242.5V565.9M453.65,238.8V565.9M455.31,238.8V565.9M456.97,229.4V565.9M458.63,228.8V565.9M460.29,227.5V565.9M461.95,223.0V565.9M463.60,206.0V565.9M465.26,195.6V565.9M466.92,193.8V565.9M468.58,185.0V565.9M470.24,170.6V565.9M471.90,165.0V565.9M473.56,168.8V565.9M475.22,183.8V565.9M476.88,187.5V565.9M478.54,197.0V565.9M480.19,206.0V565.9M481.85,216.0V565.9M483.51,231.0V565.9M485.17,275.6V565.9M486.83,275.6V565.9M488.49,257.5V565.9M490.15,248.0V565.9M491.81,232.5V565.9M493.47,211.0V565.9M495.13,195.6V565.9M496.78,187.5V565.9M498.44,187.5V565.9M500.10,183.8V565.9M501.76,179.4V565.9M503.42,147.0V565.9M505.08,147.0V565.9M506.74,143.5V565.9M508.40,109.5V565.9M510.06,57.0V565.9M511.72,68.5V565.9M513.37,96.0V565.9M515.03,127.0V565.9M516.69,144.0V565.9M518.35,170.0V565.9M520.01,183.0V565.9M521.67,196.0V565.9M523.33,196.0V565.9M524.99,247.0V565.9M526.65,262.5V565.9M528.31,277.5V565.9M529.96,297.5V565.9M531.62,315.0V565.9M533.28,323.0V565.9M534.94,326.0V565.9M536.60,326.0V565.9M538.26,332.5V565.9M539.92,350.0V565.9M541.58,363.8V565.9M543.24,375.0V565.9M544.89,375.0V565.9M546.55,373.1V565.9M548.21,375.6V565.9M549.87,375.6V565.9M551.53,375.0V565.9M553.19,367.5V565.9M554.85,363.1V565.9M556.51,375.0V565.9M558.17,378.8V565.9M559.83,388.8V565.9M561.49,394.4V565.9M563.14,408.8V565.9M564.80,421.2V565.9M566.46,431.2V565.9M568.12,438.8V565.9M569.78,444.4V565.9M571.44,452.5V565.9M573.10,458.8V565.9M574.76,465.0V565.9M576.42,468.8V565.9M578.08,474.4V565.9M579.73,475.6V565.9M581.39,476.2V565.9M583.05,476.2V565.9M584.71,480.0V565.9M586.37,485.0V565.9M588.03,488.8V565.9M589.69,489.2V565.9M591.35,492.5V565.9M593.01,496.7V565.9M594.67,503.3V565.9M596.32,509.2V565.9M597.98,514.2V565.9M599.64,519.2V565.9M601.30,523.3V565.9" stroke="#fff" stroke-opacity="0.36" stroke-width="0.5" fill="none"/>
</g>
<g id="axis">
<line x1="41.5" x2="41.5" y1="566.4" y2="571.9" stroke="#3c3c84" stroke-width="1"/><text x="41.5" y="583" class="ax" text-anchor="middle">Apr</text>
<line x1="91.5" x2="91.5" y1="566.4" y2="571.9" stroke="#3c3c84" stroke-width="1"/><text x="91.5" y="583" class="ax" text-anchor="middle">May</text>
<line x1="142.5" x2="142.5" y1="566.4" y2="571.9" stroke="#3c3c84" stroke-width="1"/><text x="142.5" y="583" class="ax" text-anchor="middle">Jun</text>
<line x1="192.5" x2="192.5" y1="566.4" y2="571.9" stroke="#3c3c84" stroke-width="1"/><text x="192.5" y="583" class="ax" text-anchor="middle">Jul</text>
<line x1="243.7" x2="243.7" y1="566.4" y2="571.9" stroke="#3c3c84" stroke-width="1"/><text x="243.7" y="583" class="ax" text-anchor="middle">Aug</text>
<line x1="295.2" x2="295.2" y1="566.4" y2="571.9" stroke="#3c3c84" stroke-width="1"/><text x="295.2" y="583" class="ax" text-anchor="middle">Sep</text>
<line x1="345" x2="345" y1="566.4" y2="571.9" stroke="#3c3c84" stroke-width="1"/><text x="345" y="583" class="ax" text-anchor="middle">Oct</text>
<line x1="396.3" x2="396.3" y1="566.4" y2="571.9" stroke="#3c3c84" stroke-width="1"/><text x="396.3" y="583" class="ax" text-anchor="middle">Nov</text>
<line x1="446.3" x2="446.3" y1="566.4" y2="571.9" stroke="#3c3c84" stroke-width="1"/><text x="446.3" y="583" class="ax" text-anchor="middle">Dec</text>
<line x1="497.6" x2="497.6" y1="566.4" y2="571.9" stroke="#3c3c84" stroke-width="1"/><text x="497.6" y="583" class="ax" text-anchor="middle">Jan 21</text>
<line x1="549" x2="549" y1="566.4" y2="571.9" stroke="#3c3c84" stroke-width="1"/><text x="549" y="583" class="ax" text-anchor="middle">Feb</text>
<line x1="595.3" x2="595.3" y1="566.4" y2="571.9" stroke="#3c3c84" stroke-width="1"/><text x="595.3" y="583" class="ax" text-anchor="middle">Mar</text>
<line x1="602" x2="602" y1="566.4" y2="571.9" stroke="#3c3c84" stroke-width="1"/>
</g>
</svg>
</body></html>
